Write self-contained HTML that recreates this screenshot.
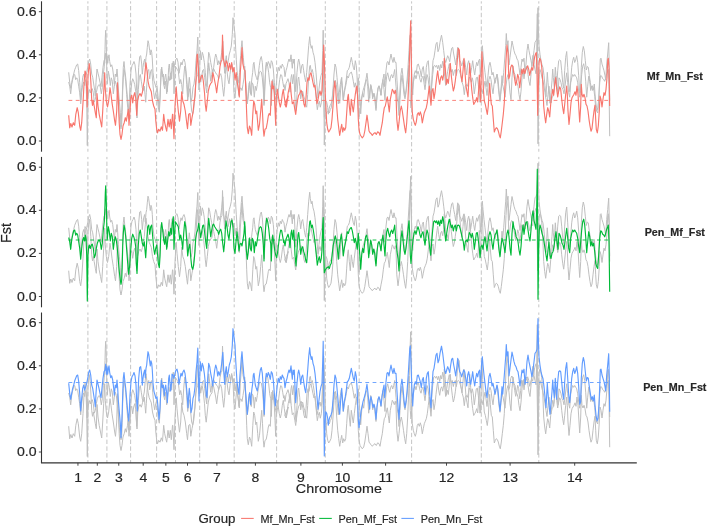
<!DOCTYPE html>
<html><head><meta charset="utf-8"><title>Fst</title>
<style>html,body{margin:0;padding:0;background:#fff}svg{display:block}text{font-family:"Liberation Sans",sans-serif;fill:#262626;stroke:#262626;stroke-width:0.18px}</style></head><body>
<svg width="708" height="527" viewBox="0 0 708 527">
<rect width="708" height="527" fill="#fff"/>
<path d="M87.9 1.3V151.7M106.9 1.3V151.7M130.6 1.3V151.7M156.6 1.3V151.7M175.5 1.3V151.7M199.7 1.3V151.7M234.2 1.3V151.7M276.6 1.3V151.7M325.3 1.3V151.7M359.2 1.3V151.7M411.6 1.3V151.7M481.3 1.3V151.7M538.8 1.3V151.7" stroke="#ADADAD" stroke-width="0.7" stroke-dasharray="4.4 2.4" stroke-dashoffset="2.1" fill="none"/>
<path d="M87.9 156.9V307.3M106.9 156.9V307.3M130.6 156.9V307.3M156.6 156.9V307.3M175.5 156.9V307.3M199.7 156.9V307.3M234.2 156.9V307.3M276.6 156.9V307.3M325.3 156.9V307.3M359.2 156.9V307.3M411.6 156.9V307.3M481.3 156.9V307.3M538.8 156.9V307.3" stroke="#ADADAD" stroke-width="0.7" stroke-dasharray="4.4 2.4" stroke-dashoffset="2.1" fill="none"/>
<path d="M87.9 312.5V462.9M106.9 312.5V462.9M130.6 312.5V462.9M156.6 312.5V462.9M175.5 312.5V462.9M199.7 312.5V462.9M234.2 312.5V462.9M276.6 312.5V462.9M325.3 312.5V462.9M359.2 312.5V462.9M411.6 312.5V462.9M481.3 312.5V462.9M538.8 312.5V462.9" stroke="#ADADAD" stroke-width="0.7" stroke-dasharray="4.4 2.4" stroke-dashoffset="2.1" fill="none"/>
<polyline points="68.7,82.0 69.7,86.2 70.7,93.8 71.7,84.5 72.7,79.5 73.7,75.3 74.7,74.5 75.7,79.7 76.7,77.8 77.7,79.5 78.7,86.2 79.7,92.8 80.7,103.8 81.7,92.8 82.7,84.5 83.7,82.0 84.7,85.5 85.3,79.5 86.0,82.8 86.7,99.5 87.3,145.5 88.0,99.5 88.7,91.2 89.3,89.5 90.3,93.0 91.3,89.5 92.3,88.7 93.3,92.8 94.3,102.2 95.3,99.5 96.3,92.8 97.3,87.8 98.3,85.3 99.3,84.5 100.3,87.0 101.3,93.8 102.3,87.8 103.3,74.5 104.3,66.2 105.0,49.5 105.3,37.8 105.7,30.3 106.3,46.2 106.8,71.2 107.3,83.8 108.3,71.2 109.3,76.2 110.3,85.5 111.3,77.8 112.3,81.2 113.3,93.8 114.3,86.2 115.3,81.2 116.3,84.5 117.3,92.8 118.3,104.5 119.3,116.2 120.3,124.5 121.0,128.8 121.7,124.5 122.2,111.2 122.7,91.2 123.3,77.8 124.0,69.5 124.7,72.8 125.7,81.2 126.7,94.5 127.7,107.8 128.7,118.8 129.7,109.5 130.7,94.5 131.7,82.8 132.7,78.7 133.7,81.2 134.7,84.5 135.7,91.2 136.3,107.8 137.0,118.0 137.7,102.8 138.3,89.5 139.3,77.8 140.3,74.5 141.3,81.2 142.3,87.8 143.3,90.5 144.3,86.2 145.0,94.5 145.7,102.2 146.3,92.8 147.0,81.2 147.7,71.2 148.7,69.5 149.7,78.8 150.7,71.2 151.7,69.5 152.7,81.2 153.7,92.8 154.7,98.8 155.7,92.8 156.7,89.5 157.3,96.2 158.3,107.8 159.3,112.2 160.0,101.2 160.5,86.2 161.0,72.8 161.7,67.0 162.7,74.5 163.7,84.5 164.7,88.8 165.7,81.2 166.7,93.8 167.7,84.5 168.7,76.2 169.7,80.5 170.7,72.8 171.7,78.8 172.3,67.8 173.3,61.2 174.0,93.8 174.7,77.8 175.3,66.2 176.3,67.8 177.3,69.5 178.3,71.2 179.0,77.8 179.7,83.8 180.7,79.5 181.7,84.5 182.7,93.8 183.7,77.8 184.7,66.2 185.7,71.2 186.7,84.5 187.7,100.5 188.7,92.8 189.7,88.7 190.7,101.2 191.7,111.2 192.7,113.8 193.7,109.5 194.7,99.5 195.7,82.8 196.7,77.0 197.7,74.5 198.7,67.8 199.7,74.5 200.7,82.2 201.7,76.2 202.7,70.3 203.7,69.5 204.7,77.8 205.7,86.2 206.7,93.0 207.7,77.8 208.7,62.8 209.7,71.2 210.7,81.3 211.7,74.5 212.7,69.5 213.7,68.7 214.7,71.2 215.7,72.8 216.7,74.5 217.7,75.3 218.7,78.8 219.7,75.3 220.7,73.7 221.7,77.8 222.7,87.8 223.7,96.3 224.7,86.2 225.3,74.5 226.0,65.3 227.0,71.2 228.0,79.5 229.0,83.8 230.0,74.5 231.0,66.2 232.0,64.5 233.0,71.2 234.0,92.8 235.0,98.0 236.0,86.2 237.0,76.2 238.0,84.5 239.0,95.5 240.0,88.7 241.0,87.8 242.0,90.5 243.0,84.5 244.0,77.8 244.7,66.2 245.3,77.8 246.3,94.5 247.3,103.8 248.3,96.2 249.3,82.8 250.3,92.8 251.3,95.5 252.3,82.8 253.3,85.3 254.3,97.2 255.3,86.2 256.3,90.5 257.3,84.5 258.3,77.8 259.3,72.8 260.3,71.2 261.3,72.0 262.3,77.8 263.3,89.5 264.0,105.5 264.7,86.2 265.7,71.2 266.7,62.8 267.7,66.2 268.7,72.8 269.7,82.8 270.7,87.8 271.3,105.5 272.0,87.8 272.7,79.5 273.7,86.2 274.7,94.5 275.7,99.5 276.7,102.2 277.7,96.2 278.7,87.8 279.7,79.5 280.7,74.5 281.7,75.3 282.7,81.2 283.7,87.2 284.0,84.5 285.0,90.5 286.0,83.7 287.0,81.2 288.0,78.7 289.0,82.8 290.0,92.2 291.0,77.8 291.7,74.5 292.7,83.8 293.7,74.5 294.3,82.8 295.0,99.5 296.0,110.5 297.0,94.5 298.0,79.5 298.7,77.0 299.7,86.2 300.7,98.8 301.7,92.8 302.7,91.2 303.7,96.2 304.7,99.5 305.7,104.5 306.7,107.2 307.7,94.5 308.7,77.8 309.7,66.2 310.3,65.3 311.3,72.2 312.3,69.5 313.3,74.5 314.3,81.2 315.3,89.5 316.3,99.5 317.3,109.7 318.3,104.5 319.3,101.2 320.3,107.2 321.3,102.8 322.0,94.5 322.7,69.5 323.2,62.0 323.7,94.5 324.3,117.2 325.3,114.5 326.3,112.8 327.3,112.0 328.3,111.2 329.3,113.0 330.3,109.5 331.3,107.8 332.3,97.8 333.3,89.5 334.3,84.5 335.3,80.3 336.3,84.5 337.3,92.8 338.3,103.8 339.3,92.8 340.3,84.5 341.3,78.7 342.3,87.8 343.3,100.5 344.3,92.8 345.3,87.8 346.3,82.8 347.3,76.2 348.3,78.0 349.3,74.5 350.3,72.8 351.3,72.0 352.3,75.3 353.3,81.2 354.3,87.2 355.3,82.8 356.3,87.8 357.3,93.8 358.3,77.8 359.0,87.8 360.0,102.8 360.7,113.8 361.7,99.5 362.7,92.8 363.7,97.2 364.7,87.8 365.7,81.2 366.7,79.5 367.7,86.2 368.7,102.2 369.7,92.8 370.7,84.5 371.7,89.5 372.7,98.8 373.7,93.7 374.7,97.8 375.3,104.5 376.0,110.5 377.0,96.2 378.0,87.8 379.0,86.2 380.0,89.5 381.0,95.5 382.0,84.5 383.0,79.5 384.0,89.5 385.0,100.5 385.7,86.2 386.7,76.2 387.7,72.8 388.7,77.8 389.7,81.3 390.7,76.2 391.7,74.5 392.7,78.0 393.7,74.5 394.7,69.5 395.3,77.8 396.0,86.2 397.0,96.2 398.0,102.8 399.0,115.5 400.0,99.5 401.0,82.8 402.0,75.3 403.0,84.5 404.0,94.5 405.0,98.8 406.0,92.8 407.0,84.5 408.0,74.5 409.0,65.3 409.7,77.8 410.3,99.5 411.0,108.0 412.0,94.5 413.0,84.5 414.0,77.8 415.0,75.3 416.0,78.8 417.0,74.5 418.0,71.2 419.0,74.5 420.0,79.5 421.0,82.2 422.0,77.8 423.0,76.2 424.0,82.8 425.0,89.7 426.0,81.2 427.0,74.5 428.0,77.8 429.0,86.2 430.0,94.5 430.7,99.7 431.7,86.2 432.7,74.5 433.7,66.2 434.7,65.3 435.7,67.2 436.7,65.3 437.7,68.8 438.7,65.3 439.7,70.5 440.7,64.5 441.7,68.0 442.7,61.2 443.7,66.2 444.7,76.2 445.7,85.5 446.7,77.8 447.7,71.2 448.7,66.2 449.3,63.7 450.3,67.8 451.3,72.2 452.3,69.5 453.3,75.5 454.3,71.2 455.3,69.5 456.3,75.5 457.3,70.3 458.3,69.5 459.3,70.3 460.3,73.7 461.3,77.8 462.3,82.8 463.3,86.2 464.3,94.7 465.3,86.2 466.3,84.5 467.3,86.3 468.3,82.8 469.3,77.0 470.3,78.7 471.3,82.2 472.3,77.8 473.3,82.8 474.3,93.8 475.3,86.2 476.3,77.8 477.3,77.0 478.3,84.5 479.3,92.8 480.0,102.2 481.0,91.2 482.0,89.5 483.0,93.8 484.0,86.2 485.0,81.2 486.0,87.8 487.0,95.5 488.0,86.2 489.0,79.5 490.0,76.2 491.0,79.5 492.0,87.8 493.0,93.8 494.0,84.5 495.0,79.5 496.0,77.8 497.0,74.5 498.0,84.5 499.0,94.5 500.0,101.3 501.0,91.2 502.0,82.8 503.0,86.2 504.0,91.2 505.0,97.2 506.0,86.2 507.0,77.8 508.0,74.5 509.0,81.2 510.0,92.8 511.0,99.7 512.0,77.8 513.0,66.2 514.0,72.8 515.0,74.5 516.0,81.2 517.0,82.8 518.0,86.2 519.0,94.5 520.0,99.7 521.0,91.2 522.0,77.8 523.0,69.5 524.0,78.8 525.0,71.2 526.0,67.0 527.0,66.2 528.0,74.5 529.0,81.2 530.0,85.5 531.0,74.5 532.0,61.2 533.0,55.3 534.0,64.5 535.0,69.5 536.0,73.8 536.7,52.8 537.3,13.7 537.7,77.8 538.0,143.8 538.7,94.5 539.3,74.5 540.0,69.5 541.0,72.8 542.0,77.8 543.0,81.2 544.0,86.2 545.0,92.8 546.0,99.5 547.0,105.5 548.0,94.5 549.0,86.2 550.0,99.5 551.0,103.0 552.0,97.8 553.0,96.2 554.0,91.2 555.0,82.8 556.0,76.2 557.0,86.2 558.0,93.8 559.0,77.8 560.0,79.5 561.0,82.8 562.0,87.8 563.0,89.5 564.0,93.8 565.0,86.2 566.0,77.8 566.7,72.8 567.7,82.8 568.7,92.8 569.7,97.2 570.7,82.8 571.7,77.8 572.7,74.5 573.7,76.3 574.7,74.5 575.7,76.2 576.7,77.8 577.7,82.8 578.7,91.2 579.7,97.2 580.7,86.2 581.7,74.5 582.7,66.2 583.7,63.7 584.7,69.5 585.7,81.2 586.7,97.2 587.7,86.2 588.7,76.2 589.7,81.2 590.7,90.5 591.7,86.2 592.7,90.5 593.7,87.8 594.7,96.2 595.7,107.8 596.7,111.2 597.7,113.0 598.7,99.5 599.7,82.8 600.7,75.3 601.7,76.2 602.7,78.7 603.7,79.5 604.7,81.3 605.7,77.8 606.7,73.7 607.7,71.2 608.3,69.5 609.0,86.2 609.7,136.2" fill="none" stroke="#BFBFBF" stroke-width="1.0" stroke-linejoin="round"/>
<polyline points="68.7,72.3 69.7,82.3 70.7,88.3 71.7,82.3 72.7,77.3 73.7,74.0 74.7,69.8 75.7,67.3 76.7,64.8 77.7,64.0 78.7,70.7 79.7,82.3 80.7,100.0 81.7,87.3 82.7,77.3 83.7,74.0 84.7,79.2 85.7,75.7 86.7,72.3 87.7,67.3 88.7,61.5 89.7,59.0 90.7,64.0 91.7,74.0 92.7,77.3 93.7,84.0 94.7,90.7 95.3,95.8 96.0,82.3 97.0,69.0 98.0,73.2 99.0,77.3 100.0,82.3 101.0,86.7 102.0,77.3 103.0,67.3 104.0,60.7 105.0,59.0 105.7,53.2 106.3,63.3 107.0,55.7 107.7,63.3 108.3,58.2 109.0,54.8 109.7,61.5 110.7,66.7 111.7,64.8 112.7,69.0 113.7,77.3 114.3,84.2 115.3,74.0 116.3,76.7 117.0,69.0 117.7,77.3 118.3,89.0 119.3,100.7 120.3,112.3 121.0,126.7 121.7,112.3 122.2,100.7 122.7,84.0 123.3,67.3 124.0,61.5 124.7,69.0 125.7,77.3 126.7,89.0 127.7,100.7 128.7,110.0 129.3,100.7 130.0,84.0 131.0,70.7 132.0,65.7 133.0,64.0 134.0,61.5 135.0,64.8 136.0,74.0 136.7,90.7 137.3,100.0 138.0,84.0 138.7,67.3 139.7,56.5 140.7,55.7 141.7,64.0 142.3,74.2 143.0,67.3 143.7,62.3 144.7,59.0 145.3,66.7 146.0,57.3 146.7,54.0 147.3,47.3 148.0,40.7 148.7,43.2 149.7,50.7 150.3,55.0 151.0,49.8 151.7,52.3 152.3,59.0 153.0,72.3 154.0,80.7 155.0,84.0 156.0,87.5 157.0,85.7 158.0,95.7 159.0,108.3 160.0,97.3 160.7,82.3 161.3,69.0 162.3,76.7 163.3,74.0 164.3,85.0 165.0,77.3 165.7,74.0 166.7,82.3 167.3,91.7 168.0,80.7 168.7,67.3 169.3,64.0 170.0,72.3 170.7,80.0 171.7,70.7 172.0,63.2 173.0,64.0 174.0,67.5 175.0,62.3 176.0,59.0 177.0,58.2 178.0,62.3 179.0,73.3 180.0,67.3 181.0,62.3 182.0,65.0 183.0,60.7 184.0,59.0 185.0,62.3 186.0,70.7 187.0,82.3 188.0,96.7 188.7,84.0 189.3,77.3 190.0,84.0 191.0,101.7 192.0,97.3 193.0,87.3 194.0,84.0 195.0,75.7 196.0,60.7 197.0,50.7 197.8,37.0 198.3,59.0 199.0,90.0 199.7,67.3 200.3,50.7 201.3,60.0 202.3,52.3 203.3,55.7 204.3,62.3 205.3,72.3 206.3,84.0 207.0,86.7 207.7,67.3 208.7,52.3 209.7,55.7 210.7,62.3 211.7,67.3 212.7,75.0 213.7,67.3 214.7,59.0 215.7,54.0 216.7,57.3 217.7,65.0 218.7,60.7 219.7,64.2 220.7,59.8 221.7,52.3 222.8,41.3 223.3,50.7 224.0,64.0 224.7,73.3 225.3,62.3 226.3,55.7 227.3,65.8 228.3,60.7 229.3,54.0 230.3,50.7 231.3,46.0 232.3,34.3 233.0,17.7 234.0,26.0 235.0,34.3 235.7,49.3 236.3,59.3 237.0,70.7 237.7,75.7 238.3,79.8 239.0,83.3 239.5,72.3 240.0,64.0 240.7,55.7 241.3,47.3 242.0,40.7 242.7,50.7 243.3,57.3 244.0,65.7 244.7,69.8 245.3,77.3 246.0,85.7 246.7,95.7 247.3,103.3 248.0,95.7 248.7,87.3 249.7,81.5 250.7,93.3 251.3,84.0 252.0,77.3 252.7,72.3 253.3,64.0 254.0,62.3 254.7,69.0 255.3,74.0 256.3,77.3 257.3,80.0 258.3,74.0 259.3,65.7 260.3,59.0 261.3,56.5 262.3,62.3 263.0,72.3 263.7,92.3 264.3,103.3 265.0,84.0 265.7,67.3 266.3,62.3 267.3,65.8 268.3,61.5 269.3,64.0 270.3,68.3 271.3,60.7 272.3,62.3 273.3,69.0 274.3,82.3 275.3,95.0 276.3,84.0 277.3,74.0 278.3,67.3 279.3,70.8 280.3,65.7 281.3,68.3 282.3,64.0 283.3,66.5 284.0,67.3 285.0,76.7 286.0,70.7 287.0,67.3 288.0,62.3 289.0,59.0 290.0,61.7 291.0,54.8 291.7,62.3 292.3,68.3 293.0,59.0 293.7,63.3 294.3,59.0 295.0,75.7 295.7,91.7 296.3,84.0 297.0,72.3 298.0,62.3 298.7,59.0 299.7,64.0 300.7,73.3 301.7,65.7 302.7,64.0 303.7,70.7 304.7,77.3 305.7,81.7 306.7,72.3 307.7,59.0 308.7,45.7 309.7,36.7 310.3,43.2 311.3,48.3 312.0,45.7 313.0,52.3 314.0,55.7 315.0,62.3 316.0,72.3 317.0,85.7 318.0,98.3 319.0,89.0 320.0,80.7 321.0,75.7 322.0,72.3 322.7,50.7 323.2,30.2 323.7,67.3 324.3,145.0 325.0,114.0 325.7,100.7 326.7,102.3 327.7,107.3 328.3,114.2 329.0,109.0 330.0,105.7 331.0,104.0 332.0,100.7 333.0,89.0 334.0,74.0 335.0,64.0 336.0,67.3 337.0,77.3 338.0,89.0 339.0,99.0 339.7,103.3 340.7,89.0 341.7,77.3 342.3,85.7 343.3,100.0 344.3,90.7 345.3,85.7 346.3,79.0 347.3,70.7 348.3,69.8 349.3,67.3 350.3,62.3 351.3,57.3 352.3,62.3 353.3,67.3 354.3,70.0 355.3,60.7 356.3,65.7 357.0,75.7 357.7,92.3 358.3,109.0 359.0,116.7 360.0,109.0 361.0,100.7 362.0,95.7 363.0,90.7 364.0,87.3 365.0,84.0 366.0,79.0 367.0,73.2 368.0,82.3 369.0,92.3 369.7,98.3 370.3,89.0 371.0,85.7 372.0,90.7 373.0,96.7 374.0,93.2 375.0,97.3 376.0,108.3 377.0,95.7 378.0,89.0 379.0,85.7 380.0,89.0 381.0,95.0 382.0,85.7 383.0,79.0 384.0,74.0 384.7,86.7 385.3,80.7 386.0,70.7 387.0,62.3 388.0,61.5 389.0,65.0 390.0,59.0 391.0,54.0 392.0,59.0 393.0,62.5 394.0,57.3 395.0,62.3 396.0,62.3 397.0,80.7 398.0,95.7 399.0,108.3 400.0,89.0 401.0,74.0 402.0,68.2 403.0,77.3 404.0,89.0 405.0,96.7 406.0,90.7 407.0,80.7 408.0,67.3 409.0,50.7 409.8,37.3 410.3,34.8 411.0,50.7 411.8,75.7 412.7,95.0 413.3,84.0 414.3,74.0 415.3,70.7 416.3,73.3 417.3,64.8 418.3,64.0 419.3,67.3 420.3,70.7 421.3,76.7 422.3,69.0 423.3,66.5 424.3,75.7 425.3,83.3 426.3,67.3 427.3,62.3 428.3,60.7 429.3,75.7 430.3,90.7 431.0,96.7 432.0,75.7 433.0,60.7 434.0,57.3 435.0,50.7 436.0,44.0 437.0,42.3 438.0,51.7 439.0,49.0 440.0,42.3 441.0,37.3 441.5,35.2 442.7,42.3 443.7,50.7 444.7,59.0 445.7,62.5 446.7,59.0 447.7,55.7 448.7,58.2 449.7,61.7 450.7,54.0 451.7,48.2 452.7,47.3 453.7,54.0 454.7,59.0 455.7,65.0 456.7,57.3 457.7,47.3 458.7,55.7 459.7,60.7 460.7,62.3 461.7,65.8 462.7,62.3 463.7,59.0 464.7,60.7 465.7,67.3 466.7,75.0 467.7,64.0 468.7,60.7 469.7,67.3 470.7,73.3 471.7,67.3 472.7,60.7 473.7,69.0 474.7,75.0 475.7,67.3 476.7,62.3 477.7,65.8 478.7,60.7 479.7,59.0 480.3,76.7 481.0,67.3 481.7,50.7 482.3,45.7 483.0,54.0 484.0,64.0 485.0,72.3 486.0,80.7 487.0,86.7 488.0,75.7 489.0,65.7 490.0,62.3 491.0,67.3 492.0,75.0 493.0,72.3 494.0,77.3 495.0,83.3 496.0,79.0 497.0,74.0 498.0,79.0 499.0,90.7 500.0,100.0 501.0,89.0 502.0,75.7 502.7,83.3 503.7,72.3 504.7,59.0 505.7,45.7 506.3,33.5 507.0,45.0 508.0,40.7 509.0,65.0 510.0,57.3 511.0,49.0 512.0,41.0 513.0,45.7 514.0,50.7 515.0,54.0 516.0,55.7 517.0,59.0 518.0,60.7 519.0,67.3 520.0,75.0 521.0,67.3 522.0,59.0 523.0,61.7 524.0,58.2 525.0,73.3 526.0,64.0 527.0,50.7 528.0,44.0 529.0,50.7 530.0,55.7 531.0,60.7 532.0,65.8 533.0,59.0 534.0,50.7 535.0,42.3 536.0,41.0 537.0,38.2 537.7,17.3 538.0,7.7 538.5,34.0 539.0,46.0 540.0,54.3 541.0,60.7 542.0,64.8 543.0,67.7 544.0,75.7 545.0,85.7 546.0,96.7 546.7,84.0 547.3,72.3 548.0,82.3 549.0,94.0 550.0,103.3 551.0,92.3 552.0,80.7 552.7,69.0 553.3,77.3 554.3,86.7 555.3,67.3 556.0,75.7 556.7,88.3 557.7,70.7 558.7,60.7 559.7,59.8 560.7,60.7 561.7,70.7 562.7,82.3 563.7,88.3 564.7,70.7 565.7,57.3 566.7,51.5 567.7,67.3 568.7,84.0 569.7,91.7 570.7,80.7 571.7,67.3 572.7,60.7 573.7,57.3 574.7,62.5 575.7,59.8 576.7,55.7 577.7,62.3 578.7,75.7 579.7,93.3 580.7,90.7 581.3,67.3 582.3,52.3 583.3,46.5 584.3,50.7 585.3,60.7 586.3,70.0 587.3,66.5 588.3,67.3 589.3,75.7 590.3,82.3 591.3,88.3 592.3,85.7 593.3,90.0 594.3,84.0 595.0,94.0 596.0,104.0 597.0,110.0 598.0,107.3 599.0,94.0 599.7,75.7 600.3,59.0 601.0,58.2 602.0,64.0 603.0,67.3 604.0,70.7 605.0,75.7 605.7,80.0 606.7,64.0 607.7,54.0 608.7,42.7 609.3,67.3 609.7,100.7" fill="none" stroke="#BFBFBF" stroke-width="1.0" stroke-linejoin="round"/>
<line x1="68.5" x2="610.0" y1="100.40" y2="100.40" stroke="#F8766D" stroke-width="0.9" stroke-dasharray="3.8 3.44"/>
<polyline points="68.7,115.2 69.7,127.8 70.8,123.5 72.0,127.0 73.3,122.7 74.7,125.3 75.8,114.3 77.2,107.7 78.3,112.7 79.7,126.0 80.7,130.3 81.7,122.7 83.0,102.7 84.2,81.0 85.0,71.0 85.8,72.7 86.7,89.3 87.2,107.0 88.0,76.0 89.2,63.5 90.0,69.3 90.8,81.0 91.7,99.3 92.5,105.3 93.3,101.0 94.2,106.0 95.3,112.7 96.3,117.8 97.0,93.5 98.0,106.0 99.2,114.3 100.5,121.0 101.7,127.0 102.7,111.0 103.7,92.7 104.7,72.7 105.3,89.3 106.3,101.0 107.5,107.0 108.7,101.0 110.0,87.7 111.0,94.3 112.0,102.7 113.3,111.0 114.7,121.0 115.5,125.3 116.7,111.0 117.5,82.7 118.3,97.7 119.2,122.7 120.0,134.3 121.0,139.5 122.0,134.3 123.0,126.0 124.2,122.7 125.3,117.7 126.3,121.2 127.5,114.3 128.3,109.3 129.0,125.3 130.0,111.0 130.8,97.7 131.7,95.2 132.7,102.8 133.7,96.0 134.7,92.7 135.8,98.5 136.7,115.3 137.5,101.0 138.7,96.0 140.0,93.5 141.3,96.2 142.5,91.8 143.3,86.0 144.3,81.0 145.3,69.3 146.0,62.7 147.0,71.0 148.0,81.0 149.2,86.8 150.3,89.3 151.3,91.8 152.5,101.0 153.7,106.0 155.0,109.3 155.8,121.0 156.7,129.3 157.5,132.8 158.7,129.3 160.0,131.2 161.3,126.8 162.5,130.3 163.7,114.3 164.7,122.7 165.8,127.7 166.7,131.2 168.0,119.3 169.2,127.0 170.3,119.3 171.3,128.7 172.5,114.3 172.8,114.3 174.0,138.7 175.0,106.0 176.2,86.8 177.0,97.7 178.3,111.0 179.5,121.2 180.7,111.0 181.7,91.8 182.8,101.0 184.0,104.3 185.3,111.0 186.7,122.7 187.5,128.7 188.7,114.3 190.0,113.5 190.8,125.3 192.0,117.7 193.0,112.7 194.0,102.7 195.0,96.0 196.2,76.7 197.0,55.0 197.5,54.2 198.3,68.3 199.0,82.7 200.0,81.0 201.2,76.0 202.3,75.2 203.3,81.0 204.5,92.7 205.3,104.3 206.2,111.2 207.3,101.0 208.3,91.0 209.5,86.0 210.7,83.5 212.0,81.8 212.8,72.7 213.7,76.0 214.7,81.0 215.7,86.0 216.7,92.8 217.8,83.5 219.0,76.0 220.0,66.7 221.0,61.7 222.0,60.0 222.5,35.0 223.3,58.3 224.0,61.7 225.0,66.8 226.2,60.8 227.3,63.3 228.3,71.0 229.5,63.3 230.7,69.3 231.7,62.5 232.8,71.8 234.0,67.5 235.0,80.2 236.2,72.5 237.3,82.5 238.3,89.2 239.3,97.0 240.3,72.5 241.2,60.0 242.0,47.5 242.8,63.3 244.0,69.2 245.0,70.8 245.8,89.3 246.7,114.3 247.3,127.7 248.3,133.7 249.5,126.0 250.7,129.3 251.7,135.3 252.8,114.3 253.7,101.0 254.7,104.3 255.8,113.7 256.7,111.0 257.7,122.7 258.3,130.3 259.5,124.3 260.7,111.0 261.7,99.3 262.5,112.7 263.3,129.3 264.0,136.2 265.0,129.3 266.2,128.5 267.3,122.7 268.3,116.0 269.2,113.5 270.3,115.3 271.2,96.0 272.0,81.0 272.8,88.7 273.7,86.0 274.3,94.3 275.0,109.3 275.7,125.3 276.3,97.7 277.3,89.3 278.3,96.0 279.3,102.7 280.3,107.0 281.3,102.7 282.3,94.3 283.3,89.3 284.3,97.7 285.3,104.3 286.3,107.0 287.3,101.0 288.3,96.0 284.8,104.3 286.0,107.0 287.0,101.0 288.2,92.7 289.3,87.7 290.3,82.7 291.2,94.3 292.3,103.7 293.7,101.8 294.8,109.3 295.7,114.5 296.7,106.0 297.7,99.3 298.7,95.2 299.8,93.5 301.0,90.2 302.0,92.7 303.0,97.7 304.0,104.3 305.0,107.0 306.0,97.7 307.0,82.7 308.0,77.7 309.0,80.3 310.0,74.3 311.0,72.7 312.0,77.7 313.0,82.7 314.0,87.0 315.0,85.2 316.0,94.3 317.0,103.7 318.0,99.3 319.0,94.3 320.0,91.0 321.0,95.3 322.0,91.0 322.7,72.7 323.3,56.0 323.7,45.0 324.2,56.0 324.7,72.7 325.3,94.3 326.0,109.3 326.7,122.7 327.7,129.3 328.7,132.0 329.8,130.2 331.0,127.7 332.0,119.3 333.0,106.0 334.0,89.3 334.8,81.0 335.7,89.3 336.7,106.0 337.7,119.3 338.7,127.7 339.7,135.3 340.7,129.3 341.7,124.3 342.7,132.0 343.7,127.7 344.7,130.3 345.7,127.7 346.7,112.7 347.7,97.7 348.3,94.3 349.3,106.0 350.3,115.3 351.3,99.3 352.3,106.0 353.3,112.0 354.3,102.7 355.3,94.3 356.3,87.7 357.0,86.0 357.7,99.3 358.3,119.3 359.0,129.3 360.0,134.3 361.0,136.0 362.3,137.8 363.7,136.0 364.8,131.0 366.0,122.7 367.0,115.2 368.0,122.7 369.0,131.0 370.0,132.7 371.0,133.5 372.3,135.3 373.7,133.5 375.0,132.7 376.3,134.5 377.7,131.8 379.0,132.7 380.0,135.3 381.0,129.3 382.3,122.7 383.3,114.3 384.3,107.7 385.3,106.0 386.3,101.0 387.3,96.8 388.3,104.3 389.3,112.0 390.3,99.3 391.3,94.3 392.3,89.3 393.3,91.0 394.3,93.7 395.3,90.2 396.0,94.3 396.8,119.3 398.0,130.3 399.0,122.7 400.2,111.0 401.3,106.0 402.3,111.0 403.5,119.3 404.7,127.7 405.7,132.8 406.7,122.7 407.7,106.0 408.7,81.0 409.3,64.3 410.0,39.3 410.7,20.8 411.3,56.0 411.8,97.7 412.3,112.7 413.3,119.3 414.3,122.7 415.3,125.3 416.3,121.8 417.3,114.3 418.3,112.7 419.3,115.3 420.3,111.8 421.3,115.2 422.3,122.8 423.3,117.7 424.3,112.7 425.3,110.2 426.3,107.7 427.3,102.7 428.3,94.3 429.3,86.0 430.2,97.7 431.0,105.3 432.0,91.0 433.0,88.5 434.0,98.7 435.0,92.7 436.0,83.3 437.0,75.0 437.7,70.8 438.7,79.2 439.7,84.3 440.7,77.5 441.7,75.8 442.7,80.2 443.7,74.2 444.3,58.3 445.3,68.3 446.3,84.3 447.3,79.2 448.3,83.5 449.3,74.2 450.3,63.3 451.3,75.8 452.3,84.2 453.3,91.0 454.3,87.5 455.3,80.8 456.3,72.5 457.3,60.0 458.3,48.3 459.3,50.0 460.0,65.0 461.0,75.8 462.0,81.8 463.0,70.8 464.0,58.3 465.0,72.5 466.0,85.8 467.0,91.7 468.0,96.8 469.0,76.7 469.7,63.3 470.7,76.7 471.7,89.3 472.7,97.7 473.7,104.5 474.7,102.7 475.7,101.0 476.7,97.7 477.7,102.0 478.7,89.2 479.3,75.0 480.0,89.2 480.7,102.0 481.3,71.7 482.0,51.7 482.7,68.3 483.3,88.3 484.3,101.0 485.3,104.3 486.3,109.3 487.3,114.5 488.3,106.0 489.0,91.7 489.7,83.3 490.3,93.3 491.3,104.3 492.3,106.0 493.3,119.3 494.3,132.0 495.3,129.3 496.3,127.7 497.3,128.5 498.3,131.0 499.3,135.2 500.3,137.8 501.3,131.0 502.3,122.7 503.3,114.3 504.3,102.7 505.2,80.0 506.0,60.0 507.0,45.0 508.0,52.7 508.8,78.7 509.7,76.0 510.7,67.5 511.7,65.0 512.7,66.0 513.7,72.7 514.7,79.3 515.7,85.3 516.7,81.0 517.7,74.3 518.7,77.7 519.7,87.7 520.7,79.3 521.7,69.2 522.7,73.7 523.7,68.5 524.7,73.7 525.7,70.2 526.7,67.7 527.7,65.8 528.7,69.3 529.7,75.3 530.7,71.0 531.7,67.7 532.7,70.2 533.7,63.3 534.7,56.7 535.7,53.3 536.3,52.5 537.0,72.7 537.7,115.3 538.3,89.3 539.0,63.3 539.7,58.3 540.7,60.0 541.7,66.7 542.7,80.0 543.7,106.0 544.7,116.0 545.7,122.8 546.7,114.3 547.7,107.7 548.7,111.0 549.7,117.0 550.7,104.3 551.7,96.0 552.7,89.3 553.7,95.3 554.7,84.3 555.7,77.7 556.7,89.3 557.7,97.0 558.7,91.0 559.7,86.8 560.7,89.3 561.7,99.3 562.7,107.7 563.7,113.7 564.7,104.3 565.7,94.3 566.7,86.0 567.3,94.3 568.0,111.0 569.0,124.5 570.0,114.3 571.0,102.7 572.0,97.7 573.0,96.0 574.0,94.3 575.0,91.8 576.0,95.3 577.0,86.0 578.0,94.3 579.0,111.0 579.7,122.0 580.7,106.0 581.3,84.3 582.0,94.3 583.0,97.0 584.0,94.3 585.0,97.7 586.0,104.3 587.0,106.0 588.0,111.0 589.0,119.3 590.0,126.0 591.0,131.2 592.0,128.5 593.0,119.3 594.0,111.0 595.0,105.2 595.7,119.3 596.3,129.3 597.3,132.8 598.3,126.0 599.3,111.0 600.0,96.0 601.0,99.3 602.0,107.0 603.0,99.3 604.0,92.7 605.0,95.3 606.0,89.3 607.0,77.7 607.7,60.0 608.3,58.3 609.0,68.3 609.7,106.0" fill="none" stroke="#F8766D" stroke-width="1.15" stroke-linejoin="round"/>
<polyline points="68.7,270.7 69.7,283.3 70.8,279.0 72.0,282.5 73.3,278.2 74.7,280.8 75.8,269.8 77.2,263.2 78.3,268.2 79.7,281.5 80.7,285.8 81.7,278.2 83.0,258.2 84.2,236.5 85.0,226.5 85.8,228.2 86.7,244.8 87.2,262.5 88.0,231.5 89.2,219.0 90.0,224.8 90.8,236.5 91.7,254.8 92.5,260.8 93.3,256.5 94.2,261.5 95.3,268.2 96.3,273.3 97.0,249.0 98.0,261.5 99.2,269.8 100.5,276.5 101.7,282.5 102.7,266.5 103.7,248.2 104.7,228.2 105.3,244.8 106.3,256.5 107.5,262.5 108.7,256.5 110.0,243.2 111.0,249.8 112.0,258.2 113.3,266.5 114.7,276.5 115.5,280.8 116.7,266.5 117.5,238.2 118.3,253.2 119.2,278.2 120.0,289.8 121.0,295.0 122.0,289.8 123.0,281.5 124.2,278.2 125.3,273.2 126.3,276.7 127.5,269.8 128.3,264.8 129.0,280.8 130.0,266.5 130.8,253.2 131.7,250.7 132.7,258.3 133.7,251.5 134.7,248.2 135.8,254.0 136.7,270.8 137.5,256.5 138.7,251.5 140.0,249.0 141.3,251.7 142.5,247.3 143.3,241.5 144.3,236.5 145.3,224.8 146.0,218.2 147.0,226.5 148.0,236.5 149.2,242.3 150.3,244.8 151.3,247.3 152.5,256.5 153.7,261.5 155.0,264.8 155.8,276.5 156.7,284.8 157.5,288.3 158.7,284.8 160.0,286.7 161.3,282.3 162.5,285.8 163.7,269.8 164.7,278.2 165.8,283.2 166.7,286.7 168.0,274.8 169.2,282.5 170.3,274.8 171.3,284.2 172.5,269.8 172.8,269.8 174.0,294.2 175.0,261.5 176.2,242.3 177.0,253.2 178.3,266.5 179.5,276.7 180.7,266.5 181.7,247.3 182.8,256.5 184.0,259.8 185.3,266.5 186.7,278.2 187.5,284.2 188.7,269.8 190.0,269.0 190.8,280.8 192.0,273.2 193.0,268.2 194.0,258.2 195.0,251.5 196.2,232.2 197.0,210.5 197.5,209.7 198.3,223.8 199.0,238.2 200.0,236.5 201.2,231.5 202.3,230.7 203.3,236.5 204.5,248.2 205.3,259.8 206.2,266.7 207.3,256.5 208.3,246.5 209.5,241.5 210.7,239.0 212.0,237.3 212.8,228.2 213.7,231.5 214.7,236.5 215.7,241.5 216.7,248.3 217.8,239.0 219.0,231.5 220.0,222.2 221.0,217.2 222.0,215.5 222.5,190.5 223.3,213.8 224.0,217.2 225.0,222.3 226.2,216.3 227.3,218.8 228.3,226.5 229.5,218.8 230.7,224.8 231.7,218.0 232.8,227.3 234.0,223.0 235.0,235.7 236.2,228.0 237.3,238.0 238.3,244.7 239.3,252.5 240.3,228.0 241.2,215.5 242.0,203.0 242.8,218.8 244.0,224.7 245.0,226.3 245.8,244.8 246.7,269.8 247.3,283.2 248.3,289.2 249.5,281.5 250.7,284.8 251.7,290.8 252.8,269.8 253.7,256.5 254.7,259.8 255.8,269.2 256.7,266.5 257.7,278.2 258.3,285.8 259.5,279.8 260.7,266.5 261.7,254.8 262.5,268.2 263.3,284.8 264.0,291.7 265.0,284.8 266.2,284.0 267.3,278.2 268.3,271.5 269.2,269.0 270.3,270.8 271.2,251.5 272.0,236.5 272.8,244.2 273.7,241.5 274.3,249.8 275.0,264.8 275.7,280.8 276.3,253.2 277.3,244.8 278.3,251.5 279.3,258.2 280.3,262.5 281.3,258.2 282.3,249.8 283.3,244.8 284.3,253.2 285.3,259.8 286.3,262.5 287.3,256.5 288.3,251.5 284.8,259.8 286.0,262.5 287.0,256.5 288.2,248.2 289.3,243.2 290.3,238.2 291.2,249.8 292.3,259.2 293.7,257.3 294.8,264.8 295.7,270.0 296.7,261.5 297.7,254.8 298.7,250.7 299.8,249.0 301.0,245.7 302.0,248.2 303.0,253.2 304.0,259.8 305.0,262.5 306.0,253.2 307.0,238.2 308.0,233.2 309.0,235.8 310.0,229.8 311.0,228.2 312.0,233.2 313.0,238.2 314.0,242.5 315.0,240.7 316.0,249.8 317.0,259.2 318.0,254.8 319.0,249.8 320.0,246.5 321.0,250.8 322.0,246.5 322.7,228.2 323.3,211.5 323.7,200.5 324.2,211.5 324.7,228.2 325.3,249.8 326.0,264.8 326.7,278.2 327.7,284.8 328.7,287.5 329.8,285.7 331.0,283.2 332.0,274.8 333.0,261.5 334.0,244.8 334.8,236.5 335.7,244.8 336.7,261.5 337.7,274.8 338.7,283.2 339.7,290.8 340.7,284.8 341.7,279.8 342.7,287.5 343.7,283.2 344.7,285.8 345.7,283.2 346.7,268.2 347.7,253.2 348.3,249.8 349.3,261.5 350.3,270.8 351.3,254.8 352.3,261.5 353.3,267.5 354.3,258.2 355.3,249.8 356.3,243.2 357.0,241.5 357.7,254.8 358.3,274.8 359.0,284.8 360.0,289.8 361.0,291.5 362.3,293.3 363.7,291.5 364.8,286.5 366.0,278.2 367.0,270.7 368.0,278.2 369.0,286.5 370.0,288.2 371.0,289.0 372.3,290.8 373.7,289.0 375.0,288.2 376.3,290.0 377.7,287.3 379.0,288.2 380.0,290.8 381.0,284.8 382.3,278.2 383.3,269.8 384.3,263.2 385.3,261.5 386.3,256.5 387.3,252.3 388.3,259.8 389.3,267.5 390.3,254.8 391.3,249.8 392.3,244.8 393.3,246.5 394.3,249.2 395.3,245.7 396.0,249.8 396.8,274.8 398.0,285.8 399.0,278.2 400.2,266.5 401.3,261.5 402.3,266.5 403.5,274.8 404.7,283.2 405.7,288.3 406.7,278.2 407.7,261.5 408.7,236.5 409.3,219.8 410.0,194.8 410.7,176.3 411.3,211.5 411.8,253.2 412.3,268.2 413.3,274.8 414.3,278.2 415.3,280.8 416.3,277.3 417.3,269.8 418.3,268.2 419.3,270.8 420.3,267.3 421.3,270.7 422.3,278.3 423.3,273.2 424.3,268.2 425.3,265.7 426.3,263.2 427.3,258.2 428.3,249.8 429.3,241.5 430.2,253.2 431.0,260.8 432.0,246.5 433.0,244.0 434.0,254.2 435.0,248.2 436.0,238.8 437.0,230.5 437.7,226.3 438.7,234.7 439.7,239.8 440.7,233.0 441.7,231.3 442.7,235.7 443.7,229.7 444.3,213.8 445.3,223.8 446.3,239.8 447.3,234.7 448.3,239.0 449.3,229.7 450.3,218.8 451.3,231.3 452.3,239.7 453.3,246.5 454.3,243.0 455.3,236.3 456.3,228.0 457.3,215.5 458.3,203.8 459.3,205.5 460.0,220.5 461.0,231.3 462.0,237.3 463.0,226.3 464.0,213.8 465.0,228.0 466.0,241.3 467.0,247.2 468.0,252.3 469.0,232.2 469.7,218.8 470.7,232.2 471.7,244.8 472.7,253.2 473.7,260.0 474.7,258.2 475.7,256.5 476.7,253.2 477.7,257.5 478.7,244.7 479.3,230.5 480.0,244.7 480.7,257.5 481.3,227.2 482.0,207.2 482.7,223.8 483.3,243.8 484.3,256.5 485.3,259.8 486.3,264.8 487.3,270.0 488.3,261.5 489.0,247.2 489.7,238.8 490.3,248.8 491.3,259.8 492.3,261.5 493.3,274.8 494.3,287.5 495.3,284.8 496.3,283.2 497.3,284.0 498.3,286.5 499.3,290.7 500.3,293.3 501.3,286.5 502.3,278.2 503.3,269.8 504.3,258.2 505.2,235.5 506.0,215.5 507.0,200.5 508.0,208.2 508.8,234.2 509.7,231.5 510.7,223.0 511.7,220.5 512.7,221.5 513.7,228.2 514.7,234.8 515.7,240.8 516.7,236.5 517.7,229.8 518.7,233.2 519.7,243.2 520.7,234.8 521.7,224.7 522.7,229.2 523.7,224.0 524.7,229.2 525.7,225.7 526.7,223.2 527.7,221.3 528.7,224.8 529.7,230.8 530.7,226.5 531.7,223.2 532.7,225.7 533.7,218.8 534.7,212.2 535.7,208.8 536.3,208.0 537.0,228.2 537.7,270.8 538.3,244.8 539.0,218.8 539.7,213.8 540.7,215.5 541.7,222.2 542.7,235.5 543.7,261.5 544.7,271.5 545.7,278.3 546.7,269.8 547.7,263.2 548.7,266.5 549.7,272.5 550.7,259.8 551.7,251.5 552.7,244.8 553.7,250.8 554.7,239.8 555.7,233.2 556.7,244.8 557.7,252.5 558.7,246.5 559.7,242.3 560.7,244.8 561.7,254.8 562.7,263.2 563.7,269.2 564.7,259.8 565.7,249.8 566.7,241.5 567.3,249.8 568.0,266.5 569.0,280.0 570.0,269.8 571.0,258.2 572.0,253.2 573.0,251.5 574.0,249.8 575.0,247.3 576.0,250.8 577.0,241.5 578.0,249.8 579.0,266.5 579.7,277.5 580.7,261.5 581.3,239.8 582.0,249.8 583.0,252.5 584.0,249.8 585.0,253.2 586.0,259.8 587.0,261.5 588.0,266.5 589.0,274.8 590.0,281.5 591.0,286.7 592.0,284.0 593.0,274.8 594.0,266.5 595.0,260.7 595.7,274.8 596.3,284.8 597.3,288.3 598.3,281.5 599.3,266.5 600.0,251.5 601.0,254.8 602.0,262.5 603.0,254.8 604.0,248.2 605.0,250.8 606.0,244.8 607.0,233.2 607.7,215.5 608.3,213.8 609.0,223.8 609.7,261.5" fill="none" stroke="#BFBFBF" stroke-width="1.0" stroke-linejoin="round"/>
<polyline points="68.7,227.8 69.7,237.8 70.7,243.8 71.7,237.8 72.7,232.8 73.7,229.5 74.7,225.3 75.7,222.8 76.7,220.3 77.7,219.5 78.7,226.2 79.7,237.8 80.7,255.5 81.7,242.8 82.7,232.8 83.7,229.5 84.7,234.7 85.7,231.2 86.7,227.8 87.7,222.8 88.7,217.0 89.7,214.5 90.7,219.5 91.7,229.5 92.7,232.8 93.7,239.5 94.7,246.2 95.3,251.3 96.0,237.8 97.0,224.5 98.0,228.7 99.0,232.8 100.0,237.8 101.0,242.2 102.0,232.8 103.0,222.8 104.0,216.2 105.0,214.5 105.7,208.7 106.3,218.8 107.0,211.2 107.7,218.8 108.3,213.7 109.0,210.3 109.7,217.0 110.7,222.2 111.7,220.3 112.7,224.5 113.7,232.8 114.3,239.7 115.3,229.5 116.3,232.2 117.0,224.5 117.7,232.8 118.3,244.5 119.3,256.2 120.3,267.8 121.0,282.2 121.7,267.8 122.2,256.2 122.7,239.5 123.3,222.8 124.0,217.0 124.7,224.5 125.7,232.8 126.7,244.5 127.7,256.2 128.7,265.5 129.3,256.2 130.0,239.5 131.0,226.2 132.0,221.2 133.0,219.5 134.0,217.0 135.0,220.3 136.0,229.5 136.7,246.2 137.3,255.5 138.0,239.5 138.7,222.8 139.7,212.0 140.7,211.2 141.7,219.5 142.3,229.7 143.0,222.8 143.7,217.8 144.7,214.5 145.3,222.2 146.0,212.8 146.7,209.5 147.3,202.8 148.0,196.2 148.7,198.7 149.7,206.2 150.3,210.5 151.0,205.3 151.7,207.8 152.3,214.5 153.0,227.8 154.0,236.2 155.0,239.5 156.0,243.0 157.0,241.2 158.0,251.2 159.0,263.8 160.0,252.8 160.7,237.8 161.3,224.5 162.3,232.2 163.3,229.5 164.3,240.5 165.0,232.8 165.7,229.5 166.7,237.8 167.3,247.2 168.0,236.2 168.7,222.8 169.3,219.5 170.0,227.8 170.7,235.5 171.7,226.2 172.0,218.7 173.0,219.5 174.0,223.0 175.0,217.8 176.0,214.5 177.0,213.7 178.0,217.8 179.0,228.8 180.0,222.8 181.0,217.8 182.0,220.5 183.0,216.2 184.0,214.5 185.0,217.8 186.0,226.2 187.0,237.8 188.0,252.2 188.7,239.5 189.3,232.8 190.0,239.5 191.0,257.2 192.0,252.8 193.0,242.8 194.0,239.5 195.0,231.2 196.0,216.2 197.0,206.2 197.8,192.5 198.3,214.5 199.0,245.5 199.7,222.8 200.3,206.2 201.3,215.5 202.3,207.8 203.3,211.2 204.3,217.8 205.3,227.8 206.3,239.5 207.0,242.2 207.7,222.8 208.7,207.8 209.7,211.2 210.7,217.8 211.7,222.8 212.7,230.5 213.7,222.8 214.7,214.5 215.7,209.5 216.7,212.8 217.7,220.5 218.7,216.2 219.7,219.7 220.7,215.3 221.7,207.8 222.8,196.8 223.3,206.2 224.0,219.5 224.7,228.8 225.3,217.8 226.3,211.2 227.3,221.3 228.3,216.2 229.3,209.5 230.3,206.2 231.3,201.5 232.3,189.8 233.0,173.2 234.0,181.5 235.0,189.8 235.7,204.8 236.3,214.8 237.0,226.2 237.7,231.2 238.3,235.3 239.0,238.8 239.5,227.8 240.0,219.5 240.7,211.2 241.3,202.8 242.0,196.2 242.7,206.2 243.3,212.8 244.0,221.2 244.7,225.3 245.3,232.8 246.0,241.2 246.7,251.2 247.3,258.8 248.0,251.2 248.7,242.8 249.7,237.0 250.7,248.8 251.3,239.5 252.0,232.8 252.7,227.8 253.3,219.5 254.0,217.8 254.7,224.5 255.3,229.5 256.3,232.8 257.3,235.5 258.3,229.5 259.3,221.2 260.3,214.5 261.3,212.0 262.3,217.8 263.0,227.8 263.7,247.8 264.3,258.8 265.0,239.5 265.7,222.8 266.3,217.8 267.3,221.3 268.3,217.0 269.3,219.5 270.3,223.8 271.3,216.2 272.3,217.8 273.3,224.5 274.3,237.8 275.3,250.5 276.3,239.5 277.3,229.5 278.3,222.8 279.3,226.3 280.3,221.2 281.3,223.8 282.3,219.5 283.3,222.0 284.0,222.8 285.0,232.2 286.0,226.2 287.0,222.8 288.0,217.8 289.0,214.5 290.0,217.2 291.0,210.3 291.7,217.8 292.3,223.8 293.0,214.5 293.7,218.8 294.3,214.5 295.0,231.2 295.7,247.2 296.3,239.5 297.0,227.8 298.0,217.8 298.7,214.5 299.7,219.5 300.7,228.8 301.7,221.2 302.7,219.5 303.7,226.2 304.7,232.8 305.7,237.2 306.7,227.8 307.7,214.5 308.7,201.2 309.7,192.2 310.3,198.7 311.3,203.8 312.0,201.2 313.0,207.8 314.0,211.2 315.0,217.8 316.0,227.8 317.0,241.2 318.0,253.8 319.0,244.5 320.0,236.2 321.0,231.2 322.0,227.8 322.7,206.2 323.2,185.7 323.7,222.8 324.3,300.5 325.0,269.5 325.7,256.2 326.7,257.8 327.7,262.8 328.3,269.7 329.0,264.5 330.0,261.2 331.0,259.5 332.0,256.2 333.0,244.5 334.0,229.5 335.0,219.5 336.0,222.8 337.0,232.8 338.0,244.5 339.0,254.5 339.7,258.8 340.7,244.5 341.7,232.8 342.3,241.2 343.3,255.5 344.3,246.2 345.3,241.2 346.3,234.5 347.3,226.2 348.3,225.3 349.3,222.8 350.3,217.8 351.3,212.8 352.3,217.8 353.3,222.8 354.3,225.5 355.3,216.2 356.3,221.2 357.0,231.2 357.7,247.8 358.3,264.5 359.0,272.2 360.0,264.5 361.0,256.2 362.0,251.2 363.0,246.2 364.0,242.8 365.0,239.5 366.0,234.5 367.0,228.7 368.0,237.8 369.0,247.8 369.7,253.8 370.3,244.5 371.0,241.2 372.0,246.2 373.0,252.2 374.0,248.7 375.0,252.8 376.0,263.8 377.0,251.2 378.0,244.5 379.0,241.2 380.0,244.5 381.0,250.5 382.0,241.2 383.0,234.5 384.0,229.5 384.7,242.2 385.3,236.2 386.0,226.2 387.0,217.8 388.0,217.0 389.0,220.5 390.0,214.5 391.0,209.5 392.0,214.5 393.0,218.0 394.0,212.8 395.0,217.8 396.0,217.8 397.0,236.2 398.0,251.2 399.0,263.8 400.0,244.5 401.0,229.5 402.0,223.7 403.0,232.8 404.0,244.5 405.0,252.2 406.0,246.2 407.0,236.2 408.0,222.8 409.0,206.2 409.8,192.8 410.3,190.3 411.0,206.2 411.8,231.2 412.7,250.5 413.3,239.5 414.3,229.5 415.3,226.2 416.3,228.8 417.3,220.3 418.3,219.5 419.3,222.8 420.3,226.2 421.3,232.2 422.3,224.5 423.3,222.0 424.3,231.2 425.3,238.8 426.3,222.8 427.3,217.8 428.3,216.2 429.3,231.2 430.3,246.2 431.0,252.2 432.0,231.2 433.0,216.2 434.0,212.8 435.0,206.2 436.0,199.5 437.0,197.8 438.0,207.2 439.0,204.5 440.0,197.8 441.0,192.8 441.5,190.7 442.7,197.8 443.7,206.2 444.7,214.5 445.7,218.0 446.7,214.5 447.7,211.2 448.7,213.7 449.7,217.2 450.7,209.5 451.7,203.7 452.7,202.8 453.7,209.5 454.7,214.5 455.7,220.5 456.7,212.8 457.7,202.8 458.7,211.2 459.7,216.2 460.7,217.8 461.7,221.3 462.7,217.8 463.7,214.5 464.7,216.2 465.7,222.8 466.7,230.5 467.7,219.5 468.7,216.2 469.7,222.8 470.7,228.8 471.7,222.8 472.7,216.2 473.7,224.5 474.7,230.5 475.7,222.8 476.7,217.8 477.7,221.3 478.7,216.2 479.7,214.5 480.3,232.2 481.0,222.8 481.7,206.2 482.3,201.2 483.0,209.5 484.0,219.5 485.0,227.8 486.0,236.2 487.0,242.2 488.0,231.2 489.0,221.2 490.0,217.8 491.0,222.8 492.0,230.5 493.0,227.8 494.0,232.8 495.0,238.8 496.0,234.5 497.0,229.5 498.0,234.5 499.0,246.2 500.0,255.5 501.0,244.5 502.0,231.2 502.7,238.8 503.7,227.8 504.7,214.5 505.7,201.2 506.3,189.0 507.0,200.5 508.0,196.2 509.0,220.5 510.0,212.8 511.0,204.5 512.0,196.5 513.0,201.2 514.0,206.2 515.0,209.5 516.0,211.2 517.0,214.5 518.0,216.2 519.0,222.8 520.0,230.5 521.0,222.8 522.0,214.5 523.0,217.2 524.0,213.7 525.0,228.8 526.0,219.5 527.0,206.2 528.0,199.5 529.0,206.2 530.0,211.2 531.0,216.2 532.0,221.3 533.0,214.5 534.0,206.2 535.0,197.8 536.0,196.5 537.0,193.7 537.7,172.8 538.0,163.2 538.5,189.5 539.0,201.5 540.0,209.8 541.0,216.2 542.0,220.3 543.0,223.2 544.0,231.2 545.0,241.2 546.0,252.2 546.7,239.5 547.3,227.8 548.0,237.8 549.0,249.5 550.0,258.8 551.0,247.8 552.0,236.2 552.7,224.5 553.3,232.8 554.3,242.2 555.3,222.8 556.0,231.2 556.7,243.8 557.7,226.2 558.7,216.2 559.7,215.3 560.7,216.2 561.7,226.2 562.7,237.8 563.7,243.8 564.7,226.2 565.7,212.8 566.7,207.0 567.7,222.8 568.7,239.5 569.7,247.2 570.7,236.2 571.7,222.8 572.7,216.2 573.7,212.8 574.7,218.0 575.7,215.3 576.7,211.2 577.7,217.8 578.7,231.2 579.7,248.8 580.7,246.2 581.3,222.8 582.3,207.8 583.3,202.0 584.3,206.2 585.3,216.2 586.3,225.5 587.3,222.0 588.3,222.8 589.3,231.2 590.3,237.8 591.3,243.8 592.3,241.2 593.3,245.5 594.3,239.5 595.0,249.5 596.0,259.5 597.0,265.5 598.0,262.8 599.0,249.5 599.7,231.2 600.3,214.5 601.0,213.7 602.0,219.5 603.0,222.8 604.0,226.2 605.0,231.2 605.7,235.5 606.7,219.5 607.7,209.5 608.7,198.2 609.3,222.8 609.7,256.2" fill="none" stroke="#BFBFBF" stroke-width="1.0" stroke-linejoin="round"/>
<line x1="68.5" x2="610.0" y1="240.00" y2="240.00" stroke="#00BA38" stroke-width="0.9" stroke-dasharray="3.8 3.44"/>
<polyline points="68.7,237.5 69.7,241.7 70.7,249.3 71.7,240.0 72.7,235.0 73.7,230.8 74.7,230.0 75.7,235.2 76.7,233.3 77.7,235.0 78.7,241.7 79.7,248.3 80.7,259.3 81.7,248.3 82.7,240.0 83.7,237.5 84.7,241.0 85.3,235.0 86.0,238.3 86.7,255.0 87.3,301.0 88.0,255.0 88.7,246.7 89.3,245.0 90.3,248.5 91.3,245.0 92.3,244.2 93.3,248.3 94.3,257.7 95.3,255.0 96.3,248.3 97.3,243.3 98.3,240.8 99.3,240.0 100.3,242.5 101.3,249.3 102.3,243.3 103.3,230.0 104.3,221.7 105.0,205.0 105.3,193.3 105.7,185.8 106.3,201.7 106.8,226.7 107.3,239.3 108.3,226.7 109.3,231.7 110.3,241.0 111.3,233.3 112.3,236.7 113.3,249.3 114.3,241.7 115.3,236.7 116.3,240.0 117.3,248.3 118.3,260.0 119.3,271.7 120.3,280.0 121.0,284.3 121.7,280.0 122.2,266.7 122.7,246.7 123.3,233.3 124.0,225.0 124.7,228.3 125.7,236.7 126.7,250.0 127.7,263.3 128.7,274.3 129.7,265.0 130.7,250.0 131.7,238.3 132.7,234.2 133.7,236.7 134.7,240.0 135.7,246.7 136.3,263.3 137.0,273.5 137.7,258.3 138.3,245.0 139.3,233.3 140.3,230.0 141.3,236.7 142.3,243.3 143.3,246.0 144.3,241.7 145.0,250.0 145.7,257.7 146.3,248.3 147.0,236.7 147.7,226.7 148.7,225.0 149.7,234.3 150.7,226.7 151.7,225.0 152.7,236.7 153.7,248.3 154.7,254.3 155.7,248.3 156.7,245.0 157.3,251.7 158.3,263.3 159.3,267.7 160.0,256.7 160.5,241.7 161.0,228.3 161.7,222.5 162.7,230.0 163.7,240.0 164.7,244.3 165.7,236.7 166.7,249.3 167.7,240.0 168.7,231.7 169.7,236.0 170.7,228.3 171.7,234.3 172.3,223.3 173.3,216.7 174.0,249.3 174.7,233.3 175.3,221.7 176.3,223.3 177.3,225.0 178.3,226.7 179.0,233.3 179.7,239.3 180.7,235.0 181.7,240.0 182.7,249.3 183.7,233.3 184.7,221.7 185.7,226.7 186.7,240.0 187.7,256.0 188.7,248.3 189.7,244.2 190.7,256.7 191.7,266.7 192.7,269.3 193.7,265.0 194.7,255.0 195.7,238.3 196.7,232.5 197.7,230.0 198.7,223.3 199.7,230.0 200.7,237.7 201.7,231.7 202.7,225.8 203.7,225.0 204.7,233.3 205.7,241.7 206.7,248.5 207.7,233.3 208.7,218.3 209.7,226.7 210.7,236.8 211.7,230.0 212.7,225.0 213.7,224.2 214.7,226.7 215.7,228.3 216.7,230.0 217.7,230.8 218.7,234.3 219.7,230.8 220.7,229.2 221.7,233.3 222.7,243.3 223.7,251.8 224.7,241.7 225.3,230.0 226.0,220.8 227.0,226.7 228.0,235.0 229.0,239.3 230.0,230.0 231.0,221.7 232.0,220.0 233.0,226.7 234.0,248.3 235.0,253.5 236.0,241.7 237.0,231.7 238.0,240.0 239.0,251.0 240.0,244.2 241.0,243.3 242.0,246.0 243.0,240.0 244.0,233.3 244.7,221.7 245.3,233.3 246.3,250.0 247.3,259.3 248.3,251.7 249.3,238.3 250.3,248.3 251.3,251.0 252.3,238.3 253.3,240.8 254.3,252.7 255.3,241.7 256.3,246.0 257.3,240.0 258.3,233.3 259.3,228.3 260.3,226.7 261.3,227.5 262.3,233.3 263.3,245.0 264.0,261.0 264.7,241.7 265.7,226.7 266.7,218.3 267.7,221.7 268.7,228.3 269.7,238.3 270.7,243.3 271.3,261.0 272.0,243.3 272.7,235.0 273.7,241.7 274.7,250.0 275.7,255.0 276.7,257.7 277.7,251.7 278.7,243.3 279.7,235.0 280.7,230.0 281.7,230.8 282.7,236.7 283.7,242.7 284.0,240.0 285.0,246.0 286.0,239.2 287.0,236.7 288.0,234.2 289.0,238.3 290.0,247.7 291.0,233.3 291.7,230.0 292.7,239.3 293.7,230.0 294.3,238.3 295.0,255.0 296.0,266.0 297.0,250.0 298.0,235.0 298.7,232.5 299.7,241.7 300.7,254.3 301.7,248.3 302.7,246.7 303.7,251.7 304.7,255.0 305.7,260.0 306.7,262.7 307.7,250.0 308.7,233.3 309.7,221.7 310.3,220.8 311.3,227.7 312.3,225.0 313.3,230.0 314.3,236.7 315.3,245.0 316.3,255.0 317.3,265.2 318.3,260.0 319.3,256.7 320.3,262.7 321.3,258.3 322.0,250.0 322.7,225.0 323.2,217.5 323.7,250.0 324.3,272.7 325.3,270.0 326.3,268.3 327.3,267.5 328.3,266.7 329.3,268.5 330.3,265.0 331.3,263.3 332.3,253.3 333.3,245.0 334.3,240.0 335.3,235.8 336.3,240.0 337.3,248.3 338.3,259.3 339.3,248.3 340.3,240.0 341.3,234.2 342.3,243.3 343.3,256.0 344.3,248.3 345.3,243.3 346.3,238.3 347.3,231.7 348.3,233.5 349.3,230.0 350.3,228.3 351.3,227.5 352.3,230.8 353.3,236.7 354.3,242.7 355.3,238.3 356.3,243.3 357.3,249.3 358.3,233.3 359.0,243.3 360.0,258.3 360.7,269.3 361.7,255.0 362.7,248.3 363.7,252.7 364.7,243.3 365.7,236.7 366.7,235.0 367.7,241.7 368.7,257.7 369.7,248.3 370.7,240.0 371.7,245.0 372.7,254.3 373.7,249.2 374.7,253.3 375.3,260.0 376.0,266.0 377.0,251.7 378.0,243.3 379.0,241.7 380.0,245.0 381.0,251.0 382.0,240.0 383.0,235.0 384.0,245.0 385.0,256.0 385.7,241.7 386.7,231.7 387.7,228.3 388.7,233.3 389.7,236.8 390.7,231.7 391.7,230.0 392.7,233.5 393.7,230.0 394.7,225.0 395.3,233.3 396.0,241.7 397.0,251.7 398.0,258.3 399.0,271.0 400.0,255.0 401.0,238.3 402.0,230.8 403.0,240.0 404.0,250.0 405.0,254.3 406.0,248.3 407.0,240.0 408.0,230.0 409.0,220.8 409.7,233.3 410.3,255.0 411.0,263.5 412.0,250.0 413.0,240.0 414.0,233.3 415.0,230.8 416.0,234.3 417.0,230.0 418.0,226.7 419.0,230.0 420.0,235.0 421.0,237.7 422.0,233.3 423.0,231.7 424.0,238.3 425.0,245.2 426.0,236.7 427.0,230.0 428.0,233.3 429.0,241.7 430.0,250.0 430.7,255.2 431.7,241.7 432.7,230.0 433.7,221.7 434.7,220.8 435.7,222.7 436.7,220.8 437.7,224.3 438.7,220.8 439.7,226.0 440.7,220.0 441.7,223.5 442.7,216.7 443.7,221.7 444.7,231.7 445.7,241.0 446.7,233.3 447.7,226.7 448.7,221.7 449.3,219.2 450.3,223.3 451.3,227.7 452.3,225.0 453.3,231.0 454.3,226.7 455.3,225.0 456.3,231.0 457.3,225.8 458.3,225.0 459.3,225.8 460.3,229.2 461.3,233.3 462.3,238.3 463.3,241.7 464.3,250.2 465.3,241.7 466.3,240.0 467.3,241.8 468.3,238.3 469.3,232.5 470.3,234.2 471.3,237.7 472.3,233.3 473.3,238.3 474.3,249.3 475.3,241.7 476.3,233.3 477.3,232.5 478.3,240.0 479.3,248.3 480.0,257.7 481.0,246.7 482.0,245.0 483.0,249.3 484.0,241.7 485.0,236.7 486.0,243.3 487.0,251.0 488.0,241.7 489.0,235.0 490.0,231.7 491.0,235.0 492.0,243.3 493.0,249.3 494.0,240.0 495.0,235.0 496.0,233.3 497.0,230.0 498.0,240.0 499.0,250.0 500.0,256.8 501.0,246.7 502.0,238.3 503.0,241.7 504.0,246.7 505.0,252.7 506.0,241.7 507.0,233.3 508.0,230.0 509.0,236.7 510.0,248.3 511.0,255.2 512.0,233.3 513.0,221.7 514.0,228.3 515.0,230.0 516.0,236.7 517.0,238.3 518.0,241.7 519.0,250.0 520.0,255.2 521.0,246.7 522.0,233.3 523.0,225.0 524.0,234.3 525.0,226.7 526.0,222.5 527.0,221.7 528.0,230.0 529.0,236.7 530.0,241.0 531.0,230.0 532.0,216.7 533.0,210.8 534.0,220.0 535.0,225.0 536.0,229.3 536.7,208.3 537.3,169.2 537.7,233.3 538.0,299.3 538.7,250.0 539.3,230.0 540.0,225.0 541.0,228.3 542.0,233.3 543.0,236.7 544.0,241.7 545.0,248.3 546.0,255.0 547.0,261.0 548.0,250.0 549.0,241.7 550.0,255.0 551.0,258.5 552.0,253.3 553.0,251.7 554.0,246.7 555.0,238.3 556.0,231.7 557.0,241.7 558.0,249.3 559.0,233.3 560.0,235.0 561.0,238.3 562.0,243.3 563.0,245.0 564.0,249.3 565.0,241.7 566.0,233.3 566.7,228.3 567.7,238.3 568.7,248.3 569.7,252.7 570.7,238.3 571.7,233.3 572.7,230.0 573.7,231.8 574.7,230.0 575.7,231.7 576.7,233.3 577.7,238.3 578.7,246.7 579.7,252.7 580.7,241.7 581.7,230.0 582.7,221.7 583.7,219.2 584.7,225.0 585.7,236.7 586.7,252.7 587.7,241.7 588.7,231.7 589.7,236.7 590.7,246.0 591.7,241.7 592.7,246.0 593.7,243.3 594.7,251.7 595.7,263.3 596.7,266.7 597.7,268.5 598.7,255.0 599.7,238.3 600.7,230.8 601.7,231.7 602.7,234.2 603.7,235.0 604.7,236.8 605.7,233.3 606.7,229.2 607.7,226.7 608.3,225.0 609.0,241.7 609.7,291.7" fill="none" stroke="#00BA38" stroke-width="1.15" stroke-linejoin="round"/>
<polyline points="68.7,426.2 69.7,438.8 70.8,434.5 72.0,438.0 73.3,433.7 74.7,436.3 75.8,425.3 77.2,418.7 78.3,423.7 79.7,437.0 80.7,441.3 81.7,433.7 83.0,413.7 84.2,392.0 85.0,382.0 85.8,383.7 86.7,400.3 87.2,418.0 88.0,387.0 89.2,374.5 90.0,380.3 90.8,392.0 91.7,410.3 92.5,416.3 93.3,412.0 94.2,417.0 95.3,423.7 96.3,428.8 97.0,404.5 98.0,417.0 99.2,425.3 100.5,432.0 101.7,438.0 102.7,422.0 103.7,403.7 104.7,383.7 105.3,400.3 106.3,412.0 107.5,418.0 108.7,412.0 110.0,398.7 111.0,405.3 112.0,413.7 113.3,422.0 114.7,432.0 115.5,436.3 116.7,422.0 117.5,393.7 118.3,408.7 119.2,433.7 120.0,445.3 121.0,450.5 122.0,445.3 123.0,437.0 124.2,433.7 125.3,428.7 126.3,432.2 127.5,425.3 128.3,420.3 129.0,436.3 130.0,422.0 130.8,408.7 131.7,406.2 132.7,413.8 133.7,407.0 134.7,403.7 135.8,409.5 136.7,426.3 137.5,412.0 138.7,407.0 140.0,404.5 141.3,407.2 142.5,402.8 143.3,397.0 144.3,392.0 145.3,380.3 146.0,373.7 147.0,382.0 148.0,392.0 149.2,397.8 150.3,400.3 151.3,402.8 152.5,412.0 153.7,417.0 155.0,420.3 155.8,432.0 156.7,440.3 157.5,443.8 158.7,440.3 160.0,442.2 161.3,437.8 162.5,441.3 163.7,425.3 164.7,433.7 165.8,438.7 166.7,442.2 168.0,430.3 169.2,438.0 170.3,430.3 171.3,439.7 172.5,425.3 172.8,425.3 174.0,449.7 175.0,417.0 176.2,397.8 177.0,408.7 178.3,422.0 179.5,432.2 180.7,422.0 181.7,402.8 182.8,412.0 184.0,415.3 185.3,422.0 186.7,433.7 187.5,439.7 188.7,425.3 190.0,424.5 190.8,436.3 192.0,428.7 193.0,423.7 194.0,413.7 195.0,407.0 196.2,387.7 197.0,366.0 197.5,365.2 198.3,379.3 199.0,393.7 200.0,392.0 201.2,387.0 202.3,386.2 203.3,392.0 204.5,403.7 205.3,415.3 206.2,422.2 207.3,412.0 208.3,402.0 209.5,397.0 210.7,394.5 212.0,392.8 212.8,383.7 213.7,387.0 214.7,392.0 215.7,397.0 216.7,403.8 217.8,394.5 219.0,387.0 220.0,377.7 221.0,372.7 222.0,371.0 222.5,346.0 223.3,369.3 224.0,372.7 225.0,377.8 226.2,371.8 227.3,374.3 228.3,382.0 229.5,374.3 230.7,380.3 231.7,373.5 232.8,382.8 234.0,378.5 235.0,391.2 236.2,383.5 237.3,393.5 238.3,400.2 239.3,408.0 240.3,383.5 241.2,371.0 242.0,358.5 242.8,374.3 244.0,380.2 245.0,381.8 245.8,400.3 246.7,425.3 247.3,438.7 248.3,444.7 249.5,437.0 250.7,440.3 251.7,446.3 252.8,425.3 253.7,412.0 254.7,415.3 255.8,424.7 256.7,422.0 257.7,433.7 258.3,441.3 259.5,435.3 260.7,422.0 261.7,410.3 262.5,423.7 263.3,440.3 264.0,447.2 265.0,440.3 266.2,439.5 267.3,433.7 268.3,427.0 269.2,424.5 270.3,426.3 271.2,407.0 272.0,392.0 272.8,399.7 273.7,397.0 274.3,405.3 275.0,420.3 275.7,436.3 276.3,408.7 277.3,400.3 278.3,407.0 279.3,413.7 280.3,418.0 281.3,413.7 282.3,405.3 283.3,400.3 284.3,408.7 285.3,415.3 286.3,418.0 287.3,412.0 288.3,407.0 284.8,415.3 286.0,418.0 287.0,412.0 288.2,403.7 289.3,398.7 290.3,393.7 291.2,405.3 292.3,414.7 293.7,412.8 294.8,420.3 295.7,425.5 296.7,417.0 297.7,410.3 298.7,406.2 299.8,404.5 301.0,401.2 302.0,403.7 303.0,408.7 304.0,415.3 305.0,418.0 306.0,408.7 307.0,393.7 308.0,388.7 309.0,391.3 310.0,385.3 311.0,383.7 312.0,388.7 313.0,393.7 314.0,398.0 315.0,396.2 316.0,405.3 317.0,414.7 318.0,410.3 319.0,405.3 320.0,402.0 321.0,406.3 322.0,402.0 322.7,383.7 323.3,367.0 323.7,356.0 324.2,367.0 324.7,383.7 325.3,405.3 326.0,420.3 326.7,433.7 327.7,440.3 328.7,443.0 329.8,441.2 331.0,438.7 332.0,430.3 333.0,417.0 334.0,400.3 334.8,392.0 335.7,400.3 336.7,417.0 337.7,430.3 338.7,438.7 339.7,446.3 340.7,440.3 341.7,435.3 342.7,443.0 343.7,438.7 344.7,441.3 345.7,438.7 346.7,423.7 347.7,408.7 348.3,405.3 349.3,417.0 350.3,426.3 351.3,410.3 352.3,417.0 353.3,423.0 354.3,413.7 355.3,405.3 356.3,398.7 357.0,397.0 357.7,410.3 358.3,430.3 359.0,440.3 360.0,445.3 361.0,447.0 362.3,448.8 363.7,447.0 364.8,442.0 366.0,433.7 367.0,426.2 368.0,433.7 369.0,442.0 370.0,443.7 371.0,444.5 372.3,446.3 373.7,444.5 375.0,443.7 376.3,445.5 377.7,442.8 379.0,443.7 380.0,446.3 381.0,440.3 382.3,433.7 383.3,425.3 384.3,418.7 385.3,417.0 386.3,412.0 387.3,407.8 388.3,415.3 389.3,423.0 390.3,410.3 391.3,405.3 392.3,400.3 393.3,402.0 394.3,404.7 395.3,401.2 396.0,405.3 396.8,430.3 398.0,441.3 399.0,433.7 400.2,422.0 401.3,417.0 402.3,422.0 403.5,430.3 404.7,438.7 405.7,443.8 406.7,433.7 407.7,417.0 408.7,392.0 409.3,375.3 410.0,350.3 410.7,331.8 411.3,367.0 411.8,408.7 412.3,423.7 413.3,430.3 414.3,433.7 415.3,436.3 416.3,432.8 417.3,425.3 418.3,423.7 419.3,426.3 420.3,422.8 421.3,426.2 422.3,433.8 423.3,428.7 424.3,423.7 425.3,421.2 426.3,418.7 427.3,413.7 428.3,405.3 429.3,397.0 430.2,408.7 431.0,416.3 432.0,402.0 433.0,399.5 434.0,409.7 435.0,403.7 436.0,394.3 437.0,386.0 437.7,381.8 438.7,390.2 439.7,395.3 440.7,388.5 441.7,386.8 442.7,391.2 443.7,385.2 444.3,369.3 445.3,379.3 446.3,395.3 447.3,390.2 448.3,394.5 449.3,385.2 450.3,374.3 451.3,386.8 452.3,395.2 453.3,402.0 454.3,398.5 455.3,391.8 456.3,383.5 457.3,371.0 458.3,359.3 459.3,361.0 460.0,376.0 461.0,386.8 462.0,392.8 463.0,381.8 464.0,369.3 465.0,383.5 466.0,396.8 467.0,402.7 468.0,407.8 469.0,387.7 469.7,374.3 470.7,387.7 471.7,400.3 472.7,408.7 473.7,415.5 474.7,413.7 475.7,412.0 476.7,408.7 477.7,413.0 478.7,400.2 479.3,386.0 480.0,400.2 480.7,413.0 481.3,382.7 482.0,362.7 482.7,379.3 483.3,399.3 484.3,412.0 485.3,415.3 486.3,420.3 487.3,425.5 488.3,417.0 489.0,402.7 489.7,394.3 490.3,404.3 491.3,415.3 492.3,417.0 493.3,430.3 494.3,443.0 495.3,440.3 496.3,438.7 497.3,439.5 498.3,442.0 499.3,446.2 500.3,448.8 501.3,442.0 502.3,433.7 503.3,425.3 504.3,413.7 505.2,391.0 506.0,371.0 507.0,356.0 508.0,363.7 508.8,389.7 509.7,387.0 510.7,378.5 511.7,376.0 512.7,377.0 513.7,383.7 514.7,390.3 515.7,396.3 516.7,392.0 517.7,385.3 518.7,388.7 519.7,398.7 520.7,390.3 521.7,380.2 522.7,384.7 523.7,379.5 524.7,384.7 525.7,381.2 526.7,378.7 527.7,376.8 528.7,380.3 529.7,386.3 530.7,382.0 531.7,378.7 532.7,381.2 533.7,374.3 534.7,367.7 535.7,364.3 536.3,363.5 537.0,383.7 537.7,426.3 538.3,400.3 539.0,374.3 539.7,369.3 540.7,371.0 541.7,377.7 542.7,391.0 543.7,417.0 544.7,427.0 545.7,433.8 546.7,425.3 547.7,418.7 548.7,422.0 549.7,428.0 550.7,415.3 551.7,407.0 552.7,400.3 553.7,406.3 554.7,395.3 555.7,388.7 556.7,400.3 557.7,408.0 558.7,402.0 559.7,397.8 560.7,400.3 561.7,410.3 562.7,418.7 563.7,424.7 564.7,415.3 565.7,405.3 566.7,397.0 567.3,405.3 568.0,422.0 569.0,435.5 570.0,425.3 571.0,413.7 572.0,408.7 573.0,407.0 574.0,405.3 575.0,402.8 576.0,406.3 577.0,397.0 578.0,405.3 579.0,422.0 579.7,433.0 580.7,417.0 581.3,395.3 582.0,405.3 583.0,408.0 584.0,405.3 585.0,408.7 586.0,415.3 587.0,417.0 588.0,422.0 589.0,430.3 590.0,437.0 591.0,442.2 592.0,439.5 593.0,430.3 594.0,422.0 595.0,416.2 595.7,430.3 596.3,440.3 597.3,443.8 598.3,437.0 599.3,422.0 600.0,407.0 601.0,410.3 602.0,418.0 603.0,410.3 604.0,403.7 605.0,406.3 606.0,400.3 607.0,388.7 607.7,371.0 608.3,369.3 609.0,379.3 609.7,417.0" fill="none" stroke="#BFBFBF" stroke-width="1.0" stroke-linejoin="round"/>
<polyline points="68.7,393.0 69.7,397.2 70.7,404.8 71.7,395.5 72.7,390.5 73.7,386.3 74.7,385.5 75.7,390.7 76.7,388.8 77.7,390.5 78.7,397.2 79.7,403.8 80.7,414.8 81.7,403.8 82.7,395.5 83.7,393.0 84.7,396.5 85.3,390.5 86.0,393.8 86.7,410.5 87.3,456.5 88.0,410.5 88.7,402.2 89.3,400.5 90.3,404.0 91.3,400.5 92.3,399.7 93.3,403.8 94.3,413.2 95.3,410.5 96.3,403.8 97.3,398.8 98.3,396.3 99.3,395.5 100.3,398.0 101.3,404.8 102.3,398.8 103.3,385.5 104.3,377.2 105.0,360.5 105.3,348.8 105.7,341.3 106.3,357.2 106.8,382.2 107.3,394.8 108.3,382.2 109.3,387.2 110.3,396.5 111.3,388.8 112.3,392.2 113.3,404.8 114.3,397.2 115.3,392.2 116.3,395.5 117.3,403.8 118.3,415.5 119.3,427.2 120.3,435.5 121.0,439.8 121.7,435.5 122.2,422.2 122.7,402.2 123.3,388.8 124.0,380.5 124.7,383.8 125.7,392.2 126.7,405.5 127.7,418.8 128.7,429.8 129.7,420.5 130.7,405.5 131.7,393.8 132.7,389.7 133.7,392.2 134.7,395.5 135.7,402.2 136.3,418.8 137.0,429.0 137.7,413.8 138.3,400.5 139.3,388.8 140.3,385.5 141.3,392.2 142.3,398.8 143.3,401.5 144.3,397.2 145.0,405.5 145.7,413.2 146.3,403.8 147.0,392.2 147.7,382.2 148.7,380.5 149.7,389.8 150.7,382.2 151.7,380.5 152.7,392.2 153.7,403.8 154.7,409.8 155.7,403.8 156.7,400.5 157.3,407.2 158.3,418.8 159.3,423.2 160.0,412.2 160.5,397.2 161.0,383.8 161.7,378.0 162.7,385.5 163.7,395.5 164.7,399.8 165.7,392.2 166.7,404.8 167.7,395.5 168.7,387.2 169.7,391.5 170.7,383.8 171.7,389.8 172.3,378.8 173.3,372.2 174.0,404.8 174.7,388.8 175.3,377.2 176.3,378.8 177.3,380.5 178.3,382.2 179.0,388.8 179.7,394.8 180.7,390.5 181.7,395.5 182.7,404.8 183.7,388.8 184.7,377.2 185.7,382.2 186.7,395.5 187.7,411.5 188.7,403.8 189.7,399.7 190.7,412.2 191.7,422.2 192.7,424.8 193.7,420.5 194.7,410.5 195.7,393.8 196.7,388.0 197.7,385.5 198.7,378.8 199.7,385.5 200.7,393.2 201.7,387.2 202.7,381.3 203.7,380.5 204.7,388.8 205.7,397.2 206.7,404.0 207.7,388.8 208.7,373.8 209.7,382.2 210.7,392.3 211.7,385.5 212.7,380.5 213.7,379.7 214.7,382.2 215.7,383.8 216.7,385.5 217.7,386.3 218.7,389.8 219.7,386.3 220.7,384.7 221.7,388.8 222.7,398.8 223.7,407.3 224.7,397.2 225.3,385.5 226.0,376.3 227.0,382.2 228.0,390.5 229.0,394.8 230.0,385.5 231.0,377.2 232.0,375.5 233.0,382.2 234.0,403.8 235.0,409.0 236.0,397.2 237.0,387.2 238.0,395.5 239.0,406.5 240.0,399.7 241.0,398.8 242.0,401.5 243.0,395.5 244.0,388.8 244.7,377.2 245.3,388.8 246.3,405.5 247.3,414.8 248.3,407.2 249.3,393.8 250.3,403.8 251.3,406.5 252.3,393.8 253.3,396.3 254.3,408.2 255.3,397.2 256.3,401.5 257.3,395.5 258.3,388.8 259.3,383.8 260.3,382.2 261.3,383.0 262.3,388.8 263.3,400.5 264.0,416.5 264.7,397.2 265.7,382.2 266.7,373.8 267.7,377.2 268.7,383.8 269.7,393.8 270.7,398.8 271.3,416.5 272.0,398.8 272.7,390.5 273.7,397.2 274.7,405.5 275.7,410.5 276.7,413.2 277.7,407.2 278.7,398.8 279.7,390.5 280.7,385.5 281.7,386.3 282.7,392.2 283.7,398.2 284.0,395.5 285.0,401.5 286.0,394.7 287.0,392.2 288.0,389.7 289.0,393.8 290.0,403.2 291.0,388.8 291.7,385.5 292.7,394.8 293.7,385.5 294.3,393.8 295.0,410.5 296.0,421.5 297.0,405.5 298.0,390.5 298.7,388.0 299.7,397.2 300.7,409.8 301.7,403.8 302.7,402.2 303.7,407.2 304.7,410.5 305.7,415.5 306.7,418.2 307.7,405.5 308.7,388.8 309.7,377.2 310.3,376.3 311.3,383.2 312.3,380.5 313.3,385.5 314.3,392.2 315.3,400.5 316.3,410.5 317.3,420.7 318.3,415.5 319.3,412.2 320.3,418.2 321.3,413.8 322.0,405.5 322.7,380.5 323.2,373.0 323.7,405.5 324.3,428.2 325.3,425.5 326.3,423.8 327.3,423.0 328.3,422.2 329.3,424.0 330.3,420.5 331.3,418.8 332.3,408.8 333.3,400.5 334.3,395.5 335.3,391.3 336.3,395.5 337.3,403.8 338.3,414.8 339.3,403.8 340.3,395.5 341.3,389.7 342.3,398.8 343.3,411.5 344.3,403.8 345.3,398.8 346.3,393.8 347.3,387.2 348.3,389.0 349.3,385.5 350.3,383.8 351.3,383.0 352.3,386.3 353.3,392.2 354.3,398.2 355.3,393.8 356.3,398.8 357.3,404.8 358.3,388.8 359.0,398.8 360.0,413.8 360.7,424.8 361.7,410.5 362.7,403.8 363.7,408.2 364.7,398.8 365.7,392.2 366.7,390.5 367.7,397.2 368.7,413.2 369.7,403.8 370.7,395.5 371.7,400.5 372.7,409.8 373.7,404.7 374.7,408.8 375.3,415.5 376.0,421.5 377.0,407.2 378.0,398.8 379.0,397.2 380.0,400.5 381.0,406.5 382.0,395.5 383.0,390.5 384.0,400.5 385.0,411.5 385.7,397.2 386.7,387.2 387.7,383.8 388.7,388.8 389.7,392.3 390.7,387.2 391.7,385.5 392.7,389.0 393.7,385.5 394.7,380.5 395.3,388.8 396.0,397.2 397.0,407.2 398.0,413.8 399.0,426.5 400.0,410.5 401.0,393.8 402.0,386.3 403.0,395.5 404.0,405.5 405.0,409.8 406.0,403.8 407.0,395.5 408.0,385.5 409.0,376.3 409.7,388.8 410.3,410.5 411.0,419.0 412.0,405.5 413.0,395.5 414.0,388.8 415.0,386.3 416.0,389.8 417.0,385.5 418.0,382.2 419.0,385.5 420.0,390.5 421.0,393.2 422.0,388.8 423.0,387.2 424.0,393.8 425.0,400.7 426.0,392.2 427.0,385.5 428.0,388.8 429.0,397.2 430.0,405.5 430.7,410.7 431.7,397.2 432.7,385.5 433.7,377.2 434.7,376.3 435.7,378.2 436.7,376.3 437.7,379.8 438.7,376.3 439.7,381.5 440.7,375.5 441.7,379.0 442.7,372.2 443.7,377.2 444.7,387.2 445.7,396.5 446.7,388.8 447.7,382.2 448.7,377.2 449.3,374.7 450.3,378.8 451.3,383.2 452.3,380.5 453.3,386.5 454.3,382.2 455.3,380.5 456.3,386.5 457.3,381.3 458.3,380.5 459.3,381.3 460.3,384.7 461.3,388.8 462.3,393.8 463.3,397.2 464.3,405.7 465.3,397.2 466.3,395.5 467.3,397.3 468.3,393.8 469.3,388.0 470.3,389.7 471.3,393.2 472.3,388.8 473.3,393.8 474.3,404.8 475.3,397.2 476.3,388.8 477.3,388.0 478.3,395.5 479.3,403.8 480.0,413.2 481.0,402.2 482.0,400.5 483.0,404.8 484.0,397.2 485.0,392.2 486.0,398.8 487.0,406.5 488.0,397.2 489.0,390.5 490.0,387.2 491.0,390.5 492.0,398.8 493.0,404.8 494.0,395.5 495.0,390.5 496.0,388.8 497.0,385.5 498.0,395.5 499.0,405.5 500.0,412.3 501.0,402.2 502.0,393.8 503.0,397.2 504.0,402.2 505.0,408.2 506.0,397.2 507.0,388.8 508.0,385.5 509.0,392.2 510.0,403.8 511.0,410.7 512.0,388.8 513.0,377.2 514.0,383.8 515.0,385.5 516.0,392.2 517.0,393.8 518.0,397.2 519.0,405.5 520.0,410.7 521.0,402.2 522.0,388.8 523.0,380.5 524.0,389.8 525.0,382.2 526.0,378.0 527.0,377.2 528.0,385.5 529.0,392.2 530.0,396.5 531.0,385.5 532.0,372.2 533.0,366.3 534.0,375.5 535.0,380.5 536.0,384.8 536.7,363.8 537.3,324.7 537.7,388.8 538.0,454.8 538.7,405.5 539.3,385.5 540.0,380.5 541.0,383.8 542.0,388.8 543.0,392.2 544.0,397.2 545.0,403.8 546.0,410.5 547.0,416.5 548.0,405.5 549.0,397.2 550.0,410.5 551.0,414.0 552.0,408.8 553.0,407.2 554.0,402.2 555.0,393.8 556.0,387.2 557.0,397.2 558.0,404.8 559.0,388.8 560.0,390.5 561.0,393.8 562.0,398.8 563.0,400.5 564.0,404.8 565.0,397.2 566.0,388.8 566.7,383.8 567.7,393.8 568.7,403.8 569.7,408.2 570.7,393.8 571.7,388.8 572.7,385.5 573.7,387.3 574.7,385.5 575.7,387.2 576.7,388.8 577.7,393.8 578.7,402.2 579.7,408.2 580.7,397.2 581.7,385.5 582.7,377.2 583.7,374.7 584.7,380.5 585.7,392.2 586.7,408.2 587.7,397.2 588.7,387.2 589.7,392.2 590.7,401.5 591.7,397.2 592.7,401.5 593.7,398.8 594.7,407.2 595.7,418.8 596.7,422.2 597.7,424.0 598.7,410.5 599.7,393.8 600.7,386.3 601.7,387.2 602.7,389.7 603.7,390.5 604.7,392.3 605.7,388.8 606.7,384.7 607.7,382.2 608.3,380.5 609.0,397.2 609.7,447.2" fill="none" stroke="#BFBFBF" stroke-width="1.0" stroke-linejoin="round"/>
<line x1="68.5" x2="610.0" y1="382.50" y2="382.50" stroke="#619CFF" stroke-width="0.9" stroke-dasharray="3.8 3.44"/>
<polyline points="68.7,383.3 69.7,393.3 70.7,399.3 71.7,393.3 72.7,388.3 73.7,385.0 74.7,380.8 75.7,378.3 76.7,375.8 77.7,375.0 78.7,381.7 79.7,393.3 80.7,411.0 81.7,398.3 82.7,388.3 83.7,385.0 84.7,390.2 85.7,386.7 86.7,383.3 87.7,378.3 88.7,372.5 89.7,370.0 90.7,375.0 91.7,385.0 92.7,388.3 93.7,395.0 94.7,401.7 95.3,406.8 96.0,393.3 97.0,380.0 98.0,384.2 99.0,388.3 100.0,393.3 101.0,397.7 102.0,388.3 103.0,378.3 104.0,371.7 105.0,370.0 105.7,364.2 106.3,374.3 107.0,366.7 107.7,374.3 108.3,369.2 109.0,365.8 109.7,372.5 110.7,377.7 111.7,375.8 112.7,380.0 113.7,388.3 114.3,395.2 115.3,385.0 116.3,387.7 117.0,380.0 117.7,388.3 118.3,400.0 119.3,411.7 120.3,423.3 121.0,437.7 121.7,423.3 122.2,411.7 122.7,395.0 123.3,378.3 124.0,372.5 124.7,380.0 125.7,388.3 126.7,400.0 127.7,411.7 128.7,421.0 129.3,411.7 130.0,395.0 131.0,381.7 132.0,376.7 133.0,375.0 134.0,372.5 135.0,375.8 136.0,385.0 136.7,401.7 137.3,411.0 138.0,395.0 138.7,378.3 139.7,367.5 140.7,366.7 141.7,375.0 142.3,385.2 143.0,378.3 143.7,373.3 144.7,370.0 145.3,377.7 146.0,368.3 146.7,365.0 147.3,358.3 148.0,351.7 148.7,354.2 149.7,361.7 150.3,366.0 151.0,360.8 151.7,363.3 152.3,370.0 153.0,383.3 154.0,391.7 155.0,395.0 156.0,398.5 157.0,396.7 158.0,406.7 159.0,419.3 160.0,408.3 160.7,393.3 161.3,380.0 162.3,387.7 163.3,385.0 164.3,396.0 165.0,388.3 165.7,385.0 166.7,393.3 167.3,402.7 168.0,391.7 168.7,378.3 169.3,375.0 170.0,383.3 170.7,391.0 171.7,381.7 172.0,374.2 173.0,375.0 174.0,378.5 175.0,373.3 176.0,370.0 177.0,369.2 178.0,373.3 179.0,384.3 180.0,378.3 181.0,373.3 182.0,376.0 183.0,371.7 184.0,370.0 185.0,373.3 186.0,381.7 187.0,393.3 188.0,407.7 188.7,395.0 189.3,388.3 190.0,395.0 191.0,412.7 192.0,408.3 193.0,398.3 194.0,395.0 195.0,386.7 196.0,371.7 197.0,361.7 197.8,348.0 198.3,370.0 199.0,401.0 199.7,378.3 200.3,361.7 201.3,371.0 202.3,363.3 203.3,366.7 204.3,373.3 205.3,383.3 206.3,395.0 207.0,397.7 207.7,378.3 208.7,363.3 209.7,366.7 210.7,373.3 211.7,378.3 212.7,386.0 213.7,378.3 214.7,370.0 215.7,365.0 216.7,368.3 217.7,376.0 218.7,371.7 219.7,375.2 220.7,370.8 221.7,363.3 222.8,352.3 223.3,361.7 224.0,375.0 224.7,384.3 225.3,373.3 226.3,366.7 227.3,376.8 228.3,371.7 229.3,365.0 230.3,361.7 231.3,357.0 232.3,345.3 233.0,328.7 234.0,337.0 235.0,345.3 235.7,360.3 236.3,370.3 237.0,381.7 237.7,386.7 238.3,390.8 239.0,394.3 239.5,383.3 240.0,375.0 240.7,366.7 241.3,358.3 242.0,351.7 242.7,361.7 243.3,368.3 244.0,376.7 244.7,380.8 245.3,388.3 246.0,396.7 246.7,406.7 247.3,414.3 248.0,406.7 248.7,398.3 249.7,392.5 250.7,404.3 251.3,395.0 252.0,388.3 252.7,383.3 253.3,375.0 254.0,373.3 254.7,380.0 255.3,385.0 256.3,388.3 257.3,391.0 258.3,385.0 259.3,376.7 260.3,370.0 261.3,367.5 262.3,373.3 263.0,383.3 263.7,403.3 264.3,414.3 265.0,395.0 265.7,378.3 266.3,373.3 267.3,376.8 268.3,372.5 269.3,375.0 270.3,379.3 271.3,371.7 272.3,373.3 273.3,380.0 274.3,393.3 275.3,406.0 276.3,395.0 277.3,385.0 278.3,378.3 279.3,381.8 280.3,376.7 281.3,379.3 282.3,375.0 283.3,377.5 284.0,378.3 285.0,387.7 286.0,381.7 287.0,378.3 288.0,373.3 289.0,370.0 290.0,372.7 291.0,365.8 291.7,373.3 292.3,379.3 293.0,370.0 293.7,374.3 294.3,370.0 295.0,386.7 295.7,402.7 296.3,395.0 297.0,383.3 298.0,373.3 298.7,370.0 299.7,375.0 300.7,384.3 301.7,376.7 302.7,375.0 303.7,381.7 304.7,388.3 305.7,392.7 306.7,383.3 307.7,370.0 308.7,356.7 309.7,347.7 310.3,354.2 311.3,359.3 312.0,356.7 313.0,363.3 314.0,366.7 315.0,373.3 316.0,383.3 317.0,396.7 318.0,409.3 319.0,400.0 320.0,391.7 321.0,386.7 322.0,383.3 322.7,361.7 323.2,341.2 323.7,378.3 324.3,456.0 325.0,425.0 325.7,411.7 326.7,413.3 327.7,418.3 328.3,425.2 329.0,420.0 330.0,416.7 331.0,415.0 332.0,411.7 333.0,400.0 334.0,385.0 335.0,375.0 336.0,378.3 337.0,388.3 338.0,400.0 339.0,410.0 339.7,414.3 340.7,400.0 341.7,388.3 342.3,396.7 343.3,411.0 344.3,401.7 345.3,396.7 346.3,390.0 347.3,381.7 348.3,380.8 349.3,378.3 350.3,373.3 351.3,368.3 352.3,373.3 353.3,378.3 354.3,381.0 355.3,371.7 356.3,376.7 357.0,386.7 357.7,403.3 358.3,420.0 359.0,427.7 360.0,420.0 361.0,411.7 362.0,406.7 363.0,401.7 364.0,398.3 365.0,395.0 366.0,390.0 367.0,384.2 368.0,393.3 369.0,403.3 369.7,409.3 370.3,400.0 371.0,396.7 372.0,401.7 373.0,407.7 374.0,404.2 375.0,408.3 376.0,419.3 377.0,406.7 378.0,400.0 379.0,396.7 380.0,400.0 381.0,406.0 382.0,396.7 383.0,390.0 384.0,385.0 384.7,397.7 385.3,391.7 386.0,381.7 387.0,373.3 388.0,372.5 389.0,376.0 390.0,370.0 391.0,365.0 392.0,370.0 393.0,373.5 394.0,368.3 395.0,373.3 396.0,373.3 397.0,391.7 398.0,406.7 399.0,419.3 400.0,400.0 401.0,385.0 402.0,379.2 403.0,388.3 404.0,400.0 405.0,407.7 406.0,401.7 407.0,391.7 408.0,378.3 409.0,361.7 409.8,348.3 410.3,345.8 411.0,361.7 411.8,386.7 412.7,406.0 413.3,395.0 414.3,385.0 415.3,381.7 416.3,384.3 417.3,375.8 418.3,375.0 419.3,378.3 420.3,381.7 421.3,387.7 422.3,380.0 423.3,377.5 424.3,386.7 425.3,394.3 426.3,378.3 427.3,373.3 428.3,371.7 429.3,386.7 430.3,401.7 431.0,407.7 432.0,386.7 433.0,371.7 434.0,368.3 435.0,361.7 436.0,355.0 437.0,353.3 438.0,362.7 439.0,360.0 440.0,353.3 441.0,348.3 441.5,346.2 442.7,353.3 443.7,361.7 444.7,370.0 445.7,373.5 446.7,370.0 447.7,366.7 448.7,369.2 449.7,372.7 450.7,365.0 451.7,359.2 452.7,358.3 453.7,365.0 454.7,370.0 455.7,376.0 456.7,368.3 457.7,358.3 458.7,366.7 459.7,371.7 460.7,373.3 461.7,376.8 462.7,373.3 463.7,370.0 464.7,371.7 465.7,378.3 466.7,386.0 467.7,375.0 468.7,371.7 469.7,378.3 470.7,384.3 471.7,378.3 472.7,371.7 473.7,380.0 474.7,386.0 475.7,378.3 476.7,373.3 477.7,376.8 478.7,371.7 479.7,370.0 480.3,387.7 481.0,378.3 481.7,361.7 482.3,356.7 483.0,365.0 484.0,375.0 485.0,383.3 486.0,391.7 487.0,397.7 488.0,386.7 489.0,376.7 490.0,373.3 491.0,378.3 492.0,386.0 493.0,383.3 494.0,388.3 495.0,394.3 496.0,390.0 497.0,385.0 498.0,390.0 499.0,401.7 500.0,411.0 501.0,400.0 502.0,386.7 502.7,394.3 503.7,383.3 504.7,370.0 505.7,356.7 506.3,344.5 507.0,356.0 508.0,351.7 509.0,376.0 510.0,368.3 511.0,360.0 512.0,352.0 513.0,356.7 514.0,361.7 515.0,365.0 516.0,366.7 517.0,370.0 518.0,371.7 519.0,378.3 520.0,386.0 521.0,378.3 522.0,370.0 523.0,372.7 524.0,369.2 525.0,384.3 526.0,375.0 527.0,361.7 528.0,355.0 529.0,361.7 530.0,366.7 531.0,371.7 532.0,376.8 533.0,370.0 534.0,361.7 535.0,353.3 536.0,352.0 537.0,349.2 537.7,328.3 538.0,318.7 538.5,345.0 539.0,357.0 540.0,365.3 541.0,371.7 542.0,375.8 543.0,378.7 544.0,386.7 545.0,396.7 546.0,407.7 546.7,395.0 547.3,383.3 548.0,393.3 549.0,405.0 550.0,414.3 551.0,403.3 552.0,391.7 552.7,380.0 553.3,388.3 554.3,397.7 555.3,378.3 556.0,386.7 556.7,399.3 557.7,381.7 558.7,371.7 559.7,370.8 560.7,371.7 561.7,381.7 562.7,393.3 563.7,399.3 564.7,381.7 565.7,368.3 566.7,362.5 567.7,378.3 568.7,395.0 569.7,402.7 570.7,391.7 571.7,378.3 572.7,371.7 573.7,368.3 574.7,373.5 575.7,370.8 576.7,366.7 577.7,373.3 578.7,386.7 579.7,404.3 580.7,401.7 581.3,378.3 582.3,363.3 583.3,357.5 584.3,361.7 585.3,371.7 586.3,381.0 587.3,377.5 588.3,378.3 589.3,386.7 590.3,393.3 591.3,399.3 592.3,396.7 593.3,401.0 594.3,395.0 595.0,405.0 596.0,415.0 597.0,421.0 598.0,418.3 599.0,405.0 599.7,386.7 600.3,370.0 601.0,369.2 602.0,375.0 603.0,378.3 604.0,381.7 605.0,386.7 605.7,391.0 606.7,375.0 607.7,365.0 608.7,353.7 609.3,378.3 609.7,411.7" fill="none" stroke="#619CFF" stroke-width="1.15" stroke-linejoin="round"/>
<line x1="41.5" x2="41.5" y1="1.3" y2="151.7" stroke="#333" stroke-width="1.1"/>
<line x1="38.9" x2="41.5" y1="141.00" y2="141.00" stroke="#333" stroke-width="0.9"/>
<text transform="translate(36.60,145.00) scale(1.06,1)" font-size="13.33" text-anchor="end" fill="#262626">0.0</text>
<line x1="38.9" x2="41.5" y1="97.90" y2="97.90" stroke="#333" stroke-width="0.9"/>
<text transform="translate(36.60,101.90) scale(1.06,1)" font-size="13.33" text-anchor="end" fill="#262626">0.2</text>
<line x1="38.9" x2="41.5" y1="54.80" y2="54.80" stroke="#333" stroke-width="0.9"/>
<text transform="translate(36.60,58.80) scale(1.06,1)" font-size="13.33" text-anchor="end" fill="#262626">0.4</text>
<line x1="38.9" x2="41.5" y1="11.70" y2="11.70" stroke="#333" stroke-width="0.9"/>
<text transform="translate(36.60,15.70) scale(1.06,1)" font-size="13.33" text-anchor="end" fill="#262626">0.6</text>
<line x1="41.5" x2="41.5" y1="156.9" y2="307.3" stroke="#333" stroke-width="1.1"/>
<line x1="38.9" x2="41.5" y1="296.50" y2="296.50" stroke="#333" stroke-width="0.9"/>
<text transform="translate(36.60,300.50) scale(1.06,1)" font-size="13.33" text-anchor="end" fill="#262626">0.0</text>
<line x1="38.9" x2="41.5" y1="253.40" y2="253.40" stroke="#333" stroke-width="0.9"/>
<text transform="translate(36.60,257.40) scale(1.06,1)" font-size="13.33" text-anchor="end" fill="#262626">0.2</text>
<line x1="38.9" x2="41.5" y1="210.30" y2="210.30" stroke="#333" stroke-width="0.9"/>
<text transform="translate(36.60,214.30) scale(1.06,1)" font-size="13.33" text-anchor="end" fill="#262626">0.4</text>
<line x1="38.9" x2="41.5" y1="167.20" y2="167.20" stroke="#333" stroke-width="0.9"/>
<text transform="translate(36.60,171.20) scale(1.06,1)" font-size="13.33" text-anchor="end" fill="#262626">0.6</text>
<line x1="41.5" x2="41.5" y1="312.5" y2="462.9" stroke="#333" stroke-width="1.1"/>
<line x1="38.9" x2="41.5" y1="452.00" y2="452.00" stroke="#333" stroke-width="0.9"/>
<text transform="translate(36.60,456.00) scale(1.06,1)" font-size="13.33" text-anchor="end" fill="#262626">0.0</text>
<line x1="38.9" x2="41.5" y1="408.90" y2="408.90" stroke="#333" stroke-width="0.9"/>
<text transform="translate(36.60,412.90) scale(1.06,1)" font-size="13.33" text-anchor="end" fill="#262626">0.2</text>
<line x1="38.9" x2="41.5" y1="365.80" y2="365.80" stroke="#333" stroke-width="0.9"/>
<text transform="translate(36.60,369.80) scale(1.06,1)" font-size="13.33" text-anchor="end" fill="#262626">0.4</text>
<line x1="38.9" x2="41.5" y1="322.70" y2="322.70" stroke="#333" stroke-width="0.9"/>
<text transform="translate(36.60,326.70) scale(1.06,1)" font-size="13.33" text-anchor="end" fill="#262626">0.6</text>
<line x1="40.95" x2="636.8" y1="462.9" y2="462.9" stroke="#333" stroke-width="1.15"/>
<line x1="77.95" x2="77.95" y1="462.9" y2="465.7" stroke="#333" stroke-width="0.9"/>
<text transform="translate(78.05,482.20) scale(1.05,1)" font-size="13.33" text-anchor="middle" fill="#262626">1</text>
<line x1="97.3" x2="97.3" y1="462.9" y2="465.7" stroke="#333" stroke-width="0.9"/>
<text transform="translate(97.40,482.20) scale(1.05,1)" font-size="13.33" text-anchor="middle" fill="#262626">2</text>
<line x1="118.75" x2="118.75" y1="462.9" y2="465.7" stroke="#333" stroke-width="0.9"/>
<text transform="translate(118.85,482.20) scale(1.05,1)" font-size="13.33" text-anchor="middle" fill="#262626">3</text>
<line x1="143.2" x2="143.2" y1="462.9" y2="465.7" stroke="#333" stroke-width="0.9"/>
<text transform="translate(143.30,482.20) scale(1.05,1)" font-size="13.33" text-anchor="middle" fill="#262626">4</text>
<line x1="165.85" x2="165.85" y1="462.9" y2="465.7" stroke="#333" stroke-width="0.9"/>
<text transform="translate(165.95,482.20) scale(1.05,1)" font-size="13.33" text-anchor="middle" fill="#262626">5</text>
<line x1="187.5" x2="187.5" y1="462.9" y2="465.7" stroke="#333" stroke-width="0.9"/>
<text transform="translate(187.60,482.20) scale(1.05,1)" font-size="13.33" text-anchor="middle" fill="#262626">6</text>
<line x1="216.9" x2="216.9" y1="462.9" y2="465.7" stroke="#333" stroke-width="0.9"/>
<text transform="translate(217.00,482.20) scale(1.05,1)" font-size="13.33" text-anchor="middle" fill="#262626">7</text>
<line x1="255.4" x2="255.4" y1="462.9" y2="465.7" stroke="#333" stroke-width="0.9"/>
<text transform="translate(255.50,482.20) scale(1.05,1)" font-size="13.33" text-anchor="middle" fill="#262626">8</text>
<line x1="300.9" x2="300.9" y1="462.9" y2="465.7" stroke="#333" stroke-width="0.9"/>
<text transform="translate(301.00,482.20) scale(1.05,1)" font-size="13.33" text-anchor="middle" fill="#262626">9</text>
<line x1="342.4" x2="342.4" y1="462.9" y2="465.7" stroke="#333" stroke-width="0.9"/>
<text transform="translate(342.50,482.20) scale(1.05,1)" font-size="13.33" text-anchor="middle" fill="#262626">10</text>
<line x1="385.6" x2="385.6" y1="462.9" y2="465.7" stroke="#333" stroke-width="0.9"/>
<text transform="translate(385.70,482.20) scale(1.05,1)" font-size="13.33" text-anchor="middle" fill="#262626">11</text>
<line x1="446.5" x2="446.5" y1="462.9" y2="465.7" stroke="#333" stroke-width="0.9"/>
<text transform="translate(446.60,482.20) scale(1.05,1)" font-size="13.33" text-anchor="middle" fill="#262626">12</text>
<line x1="510.1" x2="510.1" y1="462.9" y2="465.7" stroke="#333" stroke-width="0.9"/>
<text transform="translate(510.20,482.20) scale(1.05,1)" font-size="13.33" text-anchor="middle" fill="#262626">13</text>
<line x1="574.7" x2="574.7" y1="462.9" y2="465.7" stroke="#333" stroke-width="0.9"/>
<text transform="translate(574.80,482.20) scale(1.05,1)" font-size="13.33" text-anchor="middle" fill="#262626">14</text>
<text transform="translate(338.90,492.60) scale(1,0.93)" font-size="14.35" text-anchor="middle" fill="#1a1a1a">Chromosome</text>
<text transform="translate(11.45,233.10) rotate(-90) scale(1,0.96)" font-size="14.4" text-anchor="middle" fill="#1a1a1a">Fst</text>
<text transform="translate(674.80,80.00) scale(1,0.94)" font-size="10.75" text-anchor="middle" font-weight="bold" fill="#1a1a1a">Mf_Mn_Fst</text>
<text transform="translate(674.80,235.50) scale(1,0.94)" font-size="10.75" text-anchor="middle" font-weight="bold" fill="#1a1a1a">Pen_Mf_Fst</text>
<text transform="translate(674.80,391.00) scale(1,0.94)" font-size="10.75" text-anchor="middle" font-weight="bold" fill="#1a1a1a">Pen_Mn_Fst</text>
<text transform="translate(198.50,523.00) scale(1,0.97)" font-size="13.3" text-anchor="start" fill="#1a1a1a">Group</text>
<line x1="241.1" x2="253.7" y1="518.4" y2="518.4" stroke="#F8766D" stroke-width="1.05"/>
<text transform="translate(260.50,522.50) scale(1,0.96)" font-size="10.85" text-anchor="start" fill="#1a1a1a">Mf_Mn_Fst</text>
<line x1="319.2" x2="331.8" y1="518.4" y2="518.4" stroke="#00BA38" stroke-width="1.05"/>
<text transform="translate(338.50,522.50) scale(1,0.96)" font-size="10.85" text-anchor="start" fill="#1a1a1a">Pen_Mf_Fst</text>
<line x1="401.4" x2="413.9" y1="518.4" y2="518.4" stroke="#619CFF" stroke-width="1.05"/>
<text transform="translate(420.80,522.50) scale(1,0.96)" font-size="10.85" text-anchor="start" fill="#1a1a1a">Pen_Mn_Fst</text>
</svg></body></html>
